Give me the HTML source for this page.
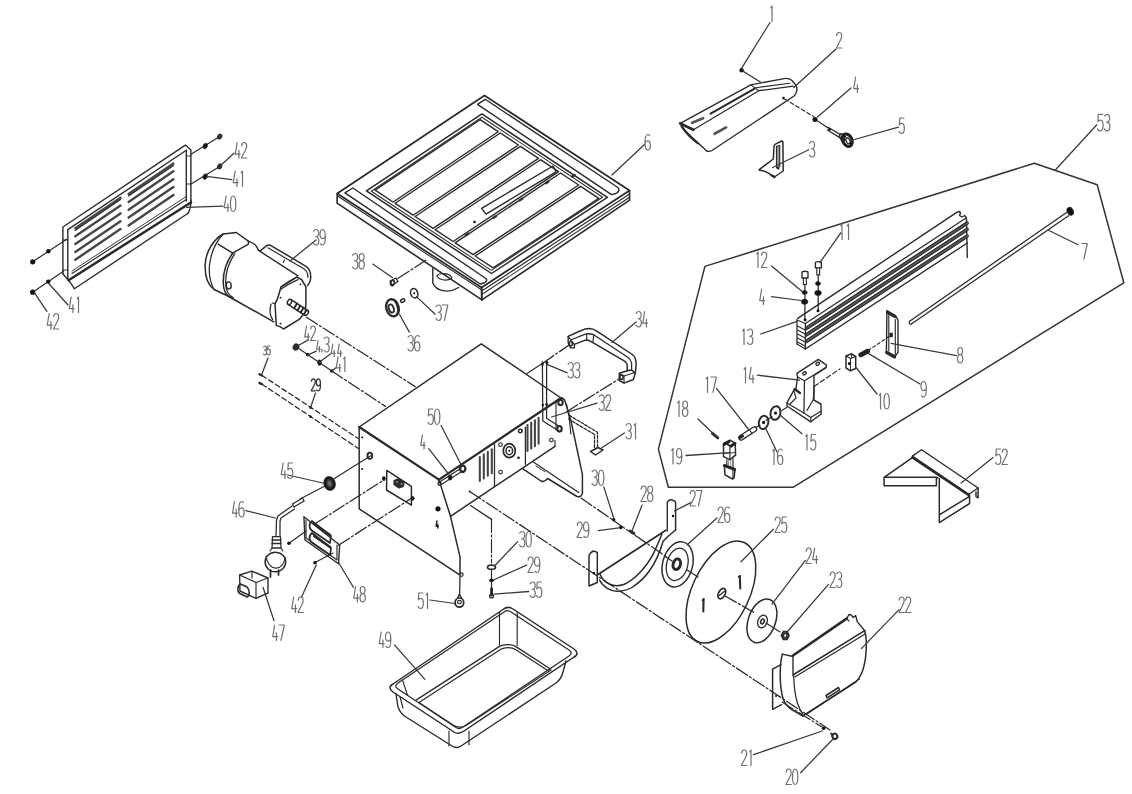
<!DOCTYPE html>
<html><head><meta charset="utf-8"><style>
html,body{margin:0;padding:0;background:#fff;}
body{width:1132px;height:794px;overflow:hidden;font-family:"Liberation Sans",sans-serif;}
svg{display:block;}
</style></head><body>
<svg width="1132" height="794" viewBox="0 0 1132 794" stroke-linecap="round" stroke-linejoin="round">
<rect width="1132" height="794" fill="#fff"/>
<polyline points="62.9,274.0 62.9,227.0 185.4,145.1 190.9,149.9 190.9,203.0" fill="none" stroke="#2a2a2a" stroke-width="1.38"/>
<polyline points="67.8,229.6 186.3,150.3" fill="none" stroke="#2a2a2a" stroke-width="1.38"/>
<polyline points="67.8,229.6 67.8,279.5" fill="none" stroke="#2a2a2a" stroke-width="1.38"/>
<polyline points="186.3,150.3 186.3,201.0" fill="none" stroke="#2a2a2a" stroke-width="1.38"/>
<polyline points="62.9,274.0 68.6,280.2" fill="none" stroke="#2a2a2a" stroke-width="1.38"/>
<polyline points="68.6,280.2 74.4,288.7" fill="none" stroke="#2a2a2a" stroke-width="1.38"/>
<polyline points="68.6,280.2 190.9,202.5" fill="none" stroke="#2a2a2a" stroke-width="2.53"/>
<polyline points="74.4,288.7 187.7,213.5" fill="none" stroke="#2a2a2a" stroke-width="1.38"/>
<path d="M190.9,200 C190.9,206 190.2,210.5 187.7,213.5" fill="none" stroke="#2a2a2a" stroke-width="1.38"/>
<polyline points="72.0,273.5 186.3,199.5" fill="none" stroke="#2a2a2a" stroke-width="1.15"/>
<polyline points="72.0,271.0 186.3,196.5" fill="none" stroke="#2a2a2a" stroke-width="0.92"/>
<polyline points="75.3,228.3 120.5,197.7" fill="none" stroke="#474747" stroke-width="2.42"/>
<polyline points="128.6,194.1 173.4,163.5" fill="none" stroke="#474747" stroke-width="2.42"/>
<polyline points="75.3,236.2 120.5,205.6" fill="none" stroke="#474747" stroke-width="2.42"/>
<polyline points="128.6,201.9 173.4,171.3" fill="none" stroke="#474747" stroke-width="2.42"/>
<polyline points="75.3,244.0 120.5,213.4" fill="none" stroke="#474747" stroke-width="2.42"/>
<polyline points="128.6,209.8 173.4,179.2" fill="none" stroke="#474747" stroke-width="2.42"/>
<polyline points="75.3,251.9 120.5,221.3" fill="none" stroke="#474747" stroke-width="2.42"/>
<polyline points="128.6,217.6 173.4,187.0" fill="none" stroke="#474747" stroke-width="2.42"/>
<polyline points="75.3,259.7 120.5,229.1" fill="none" stroke="#474747" stroke-width="2.42"/>
<polyline points="128.6,225.5 173.4,194.9" fill="none" stroke="#474747" stroke-width="2.42"/>
<polyline points="75.0,230.5 120.5,199.5" fill="none" stroke="#222" stroke-width="1.15"/>
<polyline points="128.5,196.0 173.5,165.5" fill="none" stroke="#222" stroke-width="1.15"/>
<polyline points="186.3,156.0 190.9,156.0" fill="none" stroke="#2a2a2a" stroke-width="0.92"/>
<polyline points="186.3,184.0 190.9,184.0" fill="none" stroke="#2a2a2a" stroke-width="0.92"/>
<polyline points="62.9,240.0 67.8,240.0" fill="none" stroke="#2a2a2a" stroke-width="0.92"/>
<polyline points="62.9,270.0 67.8,270.0" fill="none" stroke="#2a2a2a" stroke-width="0.92"/>
<polyline points="191.0,154.3 219.7,136.6" fill="none" stroke="#2a2a2a" stroke-width="1.15"/>
<ellipse cx="205.2" cy="146" rx="2.1" ry="2.9" transform="rotate(20 205.2 146)" fill="#111" stroke="#2a2a2a" stroke-width="0.57"/>
<ellipse cx="219.7" cy="136.6" rx="1.9" ry="2.5" transform="rotate(30 219.7 136.6)" fill="#333" stroke="#2a2a2a" stroke-width="1.15"/>
<polyline points="191.0,184.0 219.7,166.4" fill="none" stroke="#2a2a2a" stroke-width="1.15"/>
<ellipse cx="205.2" cy="176.6" rx="2.1" ry="2.9" transform="rotate(20 205.2 176.6)" fill="#111" stroke="#2a2a2a" stroke-width="0.57"/>
<ellipse cx="219.7" cy="166.4" rx="1.9" ry="2.5" transform="rotate(30 219.7 166.4)" fill="#333" stroke="#2a2a2a" stroke-width="1.15"/>
<polyline points="66.6,239.2 32.7,261.8" fill="none" stroke="#2a2a2a" stroke-width="1.15"/>
<circle cx="48.3" cy="251.2" r="2.2" fill="#111"/>
<circle cx="32.7" cy="261.8" r="2.6" fill="#111"/>
<polyline points="63.8,271.0 32.7,292.2" fill="none" stroke="#2a2a2a" stroke-width="1.15"/>
<circle cx="48.3" cy="281.6" r="2.2" fill="#111"/>
<circle cx="32.7" cy="292.2" r="2.6" fill="#111"/>
<polyline points="234.0,153.2 220.8,165.3" fill="none" stroke="#3a3a3a" stroke-width="1.26"/>
<g fill="none" stroke="#707070" stroke-width="1.2" stroke-linecap="round" stroke-linejoin="round"><path transform="translate(235.00,142.50) scale(0.889,1.033)" d="M2.4,0 L0.3,11.2 L5.8,11.2 M4.4,7.6 L4.4,15" vector-effect="non-scaling-stroke"/><path transform="translate(241.49,142.50) scale(0.889,1.033)" d="M0.2,3 C0.4,0.6 1.8,0 3,0 C4.8,0 5.8,1.2 5.8,3.6 C5.8,6.5 2.5,10 0,15 L6,15" vector-effect="non-scaling-stroke"/></g>
<polyline points="231.9,179.7 206.5,176.4" fill="none" stroke="#3a3a3a" stroke-width="1.26"/>
<g fill="none" stroke="#707070" stroke-width="1.2" stroke-linecap="round" stroke-linejoin="round"><path transform="translate(233.00,171.00) scale(0.889,1.033)" d="M2.4,0 L0.3,11.2 L5.8,11.2 M4.4,7.6 L4.4,15" vector-effect="non-scaling-stroke"/><path transform="translate(239.49,171.00) scale(0.889,1.033)" d="M1.9,1.8 L3.4,0 L3.4,15" vector-effect="non-scaling-stroke"/></g>
<polyline points="223.0,206.2 186.6,207.3" fill="none" stroke="#3a3a3a" stroke-width="1.26"/>
<g fill="none" stroke="#707070" stroke-width="1.2" stroke-linecap="round" stroke-linejoin="round"><path transform="translate(224.00,196.00) scale(0.889,1.033)" d="M2.4,0 L0.3,11.2 L5.8,11.2 M4.4,7.6 L4.4,15" vector-effect="non-scaling-stroke"/><path transform="translate(230.49,196.00) scale(0.889,1.033)" d="M3,0 C0.6,0 0,3.5 0,7.5 C0,11.5 0.6,15 3,15 C5.4,15 6,11.5 6,7.5 C6,3.5 5.4,0 3,0Z" vector-effect="non-scaling-stroke"/></g>
<polyline points="68.0,305.0 48.3,283.0" fill="none" stroke="#3a3a3a" stroke-width="1.26"/>
<g fill="none" stroke="#707070" stroke-width="1.2" stroke-linecap="round" stroke-linejoin="round"><path transform="translate(69.00,297.00) scale(0.889,1.033)" d="M2.4,0 L0.3,11.2 L5.8,11.2 M4.4,7.6 L4.4,15" vector-effect="non-scaling-stroke"/><path transform="translate(75.49,297.00) scale(0.889,1.033)" d="M1.9,1.8 L3.4,0 L3.4,15" vector-effect="non-scaling-stroke"/></g>
<polyline points="46.9,311.3 34.0,292.2" fill="none" stroke="#3a3a3a" stroke-width="1.26"/>
<g fill="none" stroke="#707070" stroke-width="1.2" stroke-linecap="round" stroke-linejoin="round"><path transform="translate(47.00,313.50) scale(0.889,1.033)" d="M2.4,0 L0.3,11.2 L5.8,11.2 M4.4,7.6 L4.4,15" vector-effect="non-scaling-stroke"/><path transform="translate(53.49,313.50) scale(0.889,1.033)" d="M0.2,3 C0.4,0.6 1.8,0 3,0 C4.8,0 5.8,1.2 5.8,3.6 C5.8,6.5 2.5,10 0,15 L6,15" vector-effect="non-scaling-stroke"/></g>
<path d="M236.3,232.5 L223.2,234 C214,239 206,251 205.2,264 C204.6,276 208,285 214,289.5 L231.2,297.5" fill="none" stroke="#2a2a2a" stroke-width="1.49"/>
<path d="M223.2,234 C216.5,241 211,253 209.5,265 C208.6,275 210.5,283 214,289.5" fill="none" stroke="#2a2a2a" stroke-width="1.26"/>
<path d="M218.1,244.1 L232.7,253.2 L248.4,244.1 L248.4,241.1 L236.3,232.5" fill="none" stroke="#2a2a2a" stroke-width="1.38"/>
<path d="M248.4,241.1 L253.5,243.5 C256,245 257.5,247.5 258.4,250.2" fill="none" stroke="#2a2a2a" stroke-width="1.38"/>
<path d="M232.7,253.2 C227,261 223.2,272 223.2,282 C223.2,291 226.5,296.5 232.2,298.5" fill="none" stroke="#2a2a2a" stroke-width="1.49"/>
<path d="M234.6,253.8 C229.2,262 225.6,272 225.6,282 C225.6,290.5 228.5,295.5 233.5,297.8" fill="none" stroke="#2a2a2a" stroke-width="1.26"/>
<ellipse cx="228.7" cy="285.4" rx="2.5" ry="3.5" transform="rotate(-10 228.7 285.4)" fill="none" stroke="#2a2a2a" stroke-width="1.38"/>
<polyline points="232.2,298.5 273.8,321.8" fill="none" stroke="#2a2a2a" stroke-width="1.49"/>
<polyline points="258.4,250.2 259.9,251.1" fill="none" stroke="#2a2a2a" stroke-width="1.38"/>
<path d="M259.9,251.1 L266,246.2 C267.2,245.2 268.8,244.8 270.5,245.3 L306,266.3 C309.5,268.5 311,273 310.7,278.3 C310.5,281 309.5,283.5 307.7,285.5" fill="none" stroke="#2a2a2a" stroke-width="1.49"/>
<path d="M268,247.8 L303.8,268.8 C306.8,270.8 308,274 308,277.5" fill="none" stroke="#2a2a2a" stroke-width="1.15"/>
<polyline points="260.5,251.7 298.0,275.9" fill="none" stroke="#2a2a2a" stroke-width="1.38"/>
<polyline points="284.5,260.0 283.2,262.5" fill="none" stroke="#2a2a2a" stroke-width="1.15"/>
<path d="M281.1,286.8 L296.8,277.1 L301.6,279.5 L305.9,286.8 L305.9,303.7 L305.3,312.1 L299.2,319.4 L283.5,329 L279.9,326.6 L276.3,325.4 L275,303.7 L277.5,298.8 Z" fill="none" stroke="#2a2a2a" stroke-width="1.49"/>
<path d="M281.1,286.8 C286,283 291,280 296.8,277.1 M280.3,289.5 C286,285.5 291.5,282.5 298,279.6" fill="none" stroke="#2a2a2a" stroke-width="1.26"/>
<path d="M271,304 C269.5,310 270,316 272.6,319.4 M272.5,303 L275,303.7" fill="none" stroke="#2a2a2a" stroke-width="1.26"/>
<circle cx="300.4" cy="284.3" r="0.9" fill="#111"/>
<circle cx="280.5" cy="297.6" r="0.9" fill="#111"/>
<circle cx="280.5" cy="323.6" r="0.9" fill="#111"/>
<path d="M291,299.6 L308,310.6 M288,304.3 L305,315.3" fill="none" stroke="#2a2a2a" stroke-width="1.49"/>
<ellipse cx="289.5" cy="302" rx="1.9" ry="2.8" transform="rotate(33 289.5 302)" fill="none" stroke="#2a2a2a" stroke-width="1.49"/>
<ellipse cx="306.5" cy="313" rx="1.5" ry="2.8" transform="rotate(33 306.5 313)" fill="none" stroke="#2a2a2a" stroke-width="1.49"/>
<polyline points="297.1,303.6 294.1,308.3" fill="none" stroke="#222" stroke-width="1.84"/>
<polyline points="300.4,305.7 297.4,310.4" fill="none" stroke="#222" stroke-width="1.84"/>
<polyline points="303.6,307.8 300.6,312.5" fill="none" stroke="#222" stroke-width="1.84"/>
<polyline points="316.0,240.0 290.0,261.0" fill="none" stroke="#3a3a3a" stroke-width="1.26"/>
<g fill="none" stroke="#707070" stroke-width="1.2" stroke-linecap="round" stroke-linejoin="round"><path transform="translate(313.50,229.50) scale(0.889,1.033)" d="M0.2,1.6 C1,0.4 2,0 3,0 C4.8,0 5.8,1.4 5.8,3.6 C5.8,5.8 4.6,7 2.4,7 C4.8,7 6,8.4 6,11 C6,13.6 4.8,15 3,15 C1.8,15 0.8,14.4 0,13.2" vector-effect="non-scaling-stroke"/><path transform="translate(319.99,229.50) scale(0.889,1.033)" d="M6,6.4 C5.5,8 4.4,8.8 2.9,8.8 C1,8.8 0,7.2 0,4.4 C0,1.6 1.2,0 3,0 C5,0 6,2 6,7 C6,12.5 5,15 2.8,15 C1.8,15 1,14.6 0.4,14" vector-effect="non-scaling-stroke"/></g>
<polygon points="484.5,95.5 629.5,190.5 481.6,287.5 337.2,193.5" fill="none" stroke="#2a2a2a" stroke-width="1.72"/>
<polyline points="337.2,193.5 337.1,203.2 481.9,299.9 629.6,200.2 629.5,190.5" fill="none" stroke="#2a2a2a" stroke-width="1.61"/>
<polyline points="337.2,195.8 481.6,289.8" fill="none" stroke="#2a2a2a" stroke-width="1.03"/>
<polyline points="481.7,291.0 629.6,194.0" fill="none" stroke="#2a2a2a" stroke-width="1.15"/>
<polyline points="481.8,294.5 629.6,197.2" fill="none" stroke="#2a2a2a" stroke-width="1.03"/>
<polyline points="481.6,287.5 481.9,299.9" fill="none" stroke="#2a2a2a" stroke-width="2.07"/>
<path d="M477.5,104.4 L485.2,99.3 L617.5,187.2 C620,189 619,192 616,193.5 L611.5,194.6 Z" fill="none" stroke="#2a2a2a" stroke-width="1.38"/>
<path d="M344.9,192.9 L352.9,188 L485.5,278.3 C488,280 486,282 484,283 L480.3,284 Z" fill="none" stroke="#2a2a2a" stroke-width="1.38"/>
<polygon points="481.9,113.9 607.4,197.4 491.5,273.5 366.4,190.8" fill="none" stroke="#2a2a2a" stroke-width="1.49"/>
<polygon points="481.9,117.2 602.6,197.2 491.3,270.4 371.3,191.3" fill="none" stroke="#2a2a2a" stroke-width="1.03"/>
<polygon points="375.1,190.1 480.1,119.7 498.2,131.7 393.1,202.0" fill="none" stroke="#2a2a2a" stroke-width="1.38"/>
<polygon points="395.1,203.3 500.3,133.0 518.4,145.0 413.1,215.2" fill="none" stroke="#2a2a2a" stroke-width="1.38"/>
<polygon points="415.1,216.5 520.4,146.4 538.5,158.4 433.1,228.3" fill="none" stroke="#2a2a2a" stroke-width="1.38"/>
<polygon points="435.1,229.7 540.5,159.7 558.6,171.7 453.1,241.5" fill="none" stroke="#2a2a2a" stroke-width="1.38"/>
<polygon points="455.1,242.9 560.6,173.0 578.7,185.0 473.1,254.7" fill="none" stroke="#2a2a2a" stroke-width="1.38"/>
<polygon points="475.1,256.0 580.7,186.4 598.8,198.4 493.1,267.9" fill="none" stroke="#2a2a2a" stroke-width="1.38"/>
<polygon points="481.6,208.3 553.0,166.0 556.0,171.8 486.0,214.1" fill="none" stroke="#2a2a2a" stroke-width="1.38"/>
<polyline points="465.8,235.3 468.2,233.7" fill="none" stroke="#333" stroke-width="2.53"/>
<polyline points="493.5,217.8 495.9,216.2" fill="none" stroke="#333" stroke-width="2.53"/>
<polyline points="519.8,200.3 522.2,198.7" fill="none" stroke="#333" stroke-width="2.53"/>
<polyline points="546.0,183.1 548.4,181.5" fill="none" stroke="#333" stroke-width="2.53"/>
<polyline points="572.2,176.6 574.6,175.0" fill="none" stroke="#333" stroke-width="2.53"/>
<circle cx="474.5" cy="222" r="1.3" fill="#111"/>
<path d="M432.8,268.5 L432.8,283 C436,291 448,294 458.7,287.5" fill="none" stroke="#2a2a2a" stroke-width="1.38"/>
<path d="M436.8,276 C440,272 450,273 452,278 C448,281 440,281 436.8,276" fill="none" stroke="#2a2a2a" stroke-width="1.15"/>
<polyline points="644.5,144.5 612.0,175.0" fill="none" stroke="#3a3a3a" stroke-width="1.26"/>
<g fill="none" stroke="#707070" stroke-width="1.2" stroke-linecap="round" stroke-linejoin="round"><path transform="translate(645.00,134.50) scale(0.889,1.033)" d="M5.4,1 C4.8,0.3 4,0 3.2,0 C1,0 0,3 0,8 C0,13 1,15 3,15 C5,15 6,13.4 6,10.6 C6,7.8 5,6.2 3.1,6.2 C1.6,6.2 0.5,7.2 0,8.6" vector-effect="non-scaling-stroke"/></g>
<polyline points="372.8,264.1 392.6,277.7" fill="none" stroke="#3a3a3a" stroke-width="1.26"/>
<g fill="none" stroke="#707070" stroke-width="1.2" stroke-linecap="round" stroke-linejoin="round"><path transform="translate(352.50,253.50) scale(0.889,1.033)" d="M0.2,1.6 C1,0.4 2,0 3,0 C4.8,0 5.8,1.4 5.8,3.6 C5.8,5.8 4.6,7 2.4,7 C4.8,7 6,8.4 6,11 C6,13.6 4.8,15 3,15 C1.8,15 0.8,14.4 0,13.2" vector-effect="non-scaling-stroke"/><path transform="translate(358.99,253.50) scale(0.889,1.033)" d="M3,7 C1,7 0.3,5.6 0.3,3.5 C0.3,1.2 1.4,0 3,0 C4.6,0 5.7,1.2 5.7,3.5 C5.7,5.6 5,7 3,7 C1,7 0,8.6 0,11 C0,13.6 1.3,15 3,15 C4.7,15 6,13.6 6,11 C6,8.6 5,7 3,7Z" vector-effect="non-scaling-stroke"/></g>
<path d="M390,281 L396,278 L398,281.5 L392,285 Z" fill="none" stroke="#2a2a2a" stroke-width="1.38"/>
<ellipse cx="392.5" cy="283" rx="1.8" ry="2.6" transform="rotate(20 392.5 283)" fill="none" stroke="#2a2a2a" stroke-width="1.61"/>
<polyline points="398.1,278.3 426.6,259.8" fill="none" stroke="#2a2a2a" stroke-width="1.26" stroke-dasharray="13 2.5 2 2.5"/>
<ellipse cx="414.2" cy="293.2" rx="3.5" ry="4.8" transform="rotate(-20 414.2 293.2)" fill="none" stroke="#2a2a2a" stroke-width="1.49"/>
<circle cx="414.2" cy="293.2" r="1.0" fill="#111"/>
<polyline points="416.7,296.9 435.2,314.2" fill="none" stroke="#3a3a3a" stroke-width="1.26"/>
<g fill="none" stroke="#707070" stroke-width="1.2" stroke-linecap="round" stroke-linejoin="round"><path transform="translate(436.00,305.00) scale(0.889,1.033)" d="M0.2,1.6 C1,0.4 2,0 3,0 C4.8,0 5.8,1.4 5.8,3.6 C5.8,5.8 4.6,7 2.4,7 C4.8,7 6,8.4 6,11 C6,13.6 4.8,15 3,15 C1.8,15 0.8,14.4 0,13.2" vector-effect="non-scaling-stroke"/><path transform="translate(442.49,305.00) scale(0.889,1.033)" d="M0,0 L6,0 L2.2,15" vector-effect="non-scaling-stroke"/></g>
<ellipse cx="392.5" cy="307.8" rx="6.2" ry="8.7" transform="rotate(-15 392.5 307.8)" fill="none" stroke="#2a2a2a" stroke-width="2.30"/>
<ellipse cx="391.3" cy="308.5" rx="2.4" ry="4.2" transform="rotate(-20 391.3 308.5)" fill="none" stroke="#2a2a2a" stroke-width="1.84"/>
<ellipse cx="402.7" cy="300.6" rx="2.2" ry="1.6" transform="rotate(-35 402.7 300.6)" fill="none" stroke="#2a2a2a" stroke-width="1.49"/>
<path d="M394,300 L396.5,304 L398,310 L397,314" fill="none" stroke="#2a2a2a" stroke-width="1.49"/>
<polyline points="399.4,314.2 409.3,332.1" fill="none" stroke="#3a3a3a" stroke-width="1.26"/>
<g fill="none" stroke="#707070" stroke-width="1.2" stroke-linecap="round" stroke-linejoin="round"><path transform="translate(408.00,335.50) scale(0.889,1.033)" d="M0.2,1.6 C1,0.4 2,0 3,0 C4.8,0 5.8,1.4 5.8,3.6 C5.8,5.8 4.6,7 2.4,7 C4.8,7 6,8.4 6,11 C6,13.6 4.8,15 3,15 C1.8,15 0.8,14.4 0,13.2" vector-effect="non-scaling-stroke"/><path transform="translate(414.49,335.50) scale(0.889,1.033)" d="M5.4,1 C4.8,0.3 4,0 3.2,0 C1,0 0,3 0,8 C0,13 1,15 3,15 C5,15 6,13.4 6,10.6 C6,7.8 5,6.2 3.1,6.2 C1.6,6.2 0.5,7.2 0,8.6" vector-effect="non-scaling-stroke"/></g>
<polyline points="359.2,427.0 481.3,343.8 561.0,398.0" fill="none" stroke="#2a2a2a" stroke-width="1.49"/>
<polyline points="359.2,427.0 438.9,479.6" fill="none" stroke="#2a2a2a" stroke-width="2.30"/>
<polyline points="438.9,479.6 561.0,398.0" fill="none" stroke="#2a2a2a" stroke-width="2.30"/>
<polyline points="359.2,427.0 359.2,508.8 459.0,574.4" fill="none" stroke="#2a2a2a" stroke-width="1.49"/>
<polyline points="438.9,479.6 450.5,516.3 460.0,556.8 460.0,574.5" fill="none" stroke="#2a2a2a" stroke-width="1.49"/>
<ellipse cx="461.3" cy="574.6" rx="1.8" ry="1.8" transform="rotate(0 461.3 574.6)" fill="none" stroke="#2a2a2a" stroke-width="1.26"/>
<ellipse cx="369.6" cy="455.7" rx="2.4" ry="3.2" transform="rotate(0 369.6 455.7)" fill="none" stroke="#2a2a2a" stroke-width="1.38"/>
<circle cx="362.2" cy="437.5" r="1.0" fill="#111"/>
<circle cx="362.2" cy="469" r="1.0" fill="#111"/>
<polygon points="386.8,470.4 411.4,486.3 411.4,505.2 386.5,490.0" fill="none" stroke="#2a2a2a" stroke-width="1.49"/>
<ellipse cx="383.8" cy="478.6" rx="1.6" ry="2.1" transform="rotate(0 383.8 478.6)" fill="#111" stroke="#2a2a2a" stroke-width="0.57"/>
<ellipse cx="412.6" cy="498.4" rx="1.6" ry="2.1" transform="rotate(0 412.6 498.4)" fill="#111" stroke="#2a2a2a" stroke-width="0.57"/>
<path d="M394,480.5 L399,478.5 L404,482 L403.5,486.5 L399,488 L394,484.5 Z" fill="#2a2a2a" stroke="#2a2a2a" stroke-width="1.15"/>
<circle cx="397" cy="482" r="0.8" fill="#ddd"/>
<circle cx="401.5" cy="484" r="0.8" fill="#ddd"/>
<circle cx="438" cy="508.8" r="2.6" fill="#111"/>
<g fill="none" stroke="#222" stroke-width="1.5" stroke-linecap="round" stroke-linejoin="round"><path transform="translate(436.00,521.00) scale(0.401,0.467)" d="M2.4,0 L0.3,11.2 L5.8,11.2 M4.4,7.6 L4.4,15" vector-effect="non-scaling-stroke"/></g>
<polyline points="450.5,516.3 555.0,446.3" fill="none" stroke="#2a2a2a" stroke-width="1.49"/>
<polyline points="555.0,440.5 555.0,446.3" fill="none" stroke="#2a2a2a" stroke-width="1.15"/>
<polyline points="440.5,481.3 461.0,468.2" fill="none" stroke="#2a2a2a" stroke-width="1.15"/>
<polyline points="441.8,484.2 462.5,471.0" fill="none" stroke="#2a2a2a" stroke-width="1.15"/>
<ellipse cx="439.6" cy="483.6" rx="1.6" ry="1.8" transform="rotate(0 439.6 483.6)" fill="none" stroke="#2a2a2a" stroke-width="1.38"/>
<ellipse cx="450.2" cy="477.6" rx="2.0" ry="2.5" transform="rotate(0 450.2 477.6)" fill="#111" stroke="#2a2a2a" stroke-width="0.69"/>
<ellipse cx="462.7" cy="468.8" rx="2.7" ry="3.2" transform="rotate(0 462.7 468.8)" fill="none" stroke="#2a2a2a" stroke-width="2.30"/>
<polyline points="494.5,444.5 494.5,486.6" fill="none" stroke="#2a2a2a" stroke-width="1.26"/>
<polyline points="525.4,427.2 525.4,464.3" fill="none" stroke="#2a2a2a" stroke-width="1.26"/>
<polyline points="479.8,457.0 479.8,481.0" fill="none" stroke="#444" stroke-width="2.07"/>
<polyline points="483.8,454.4 483.8,478.4" fill="none" stroke="#444" stroke-width="2.07"/>
<polyline points="487.8,451.8 487.8,475.8" fill="none" stroke="#444" stroke-width="2.07"/>
<polyline points="491.8,449.2 491.8,473.2" fill="none" stroke="#444" stroke-width="2.07"/>
<polyline points="527.5,425.0 527.5,451.0" fill="none" stroke="#444" stroke-width="2.07"/>
<polyline points="531.2,422.6 531.2,448.6" fill="none" stroke="#444" stroke-width="2.07"/>
<polyline points="534.9,420.2 534.9,446.2" fill="none" stroke="#444" stroke-width="2.07"/>
<polyline points="538.6,417.8 538.6,443.8" fill="none" stroke="#444" stroke-width="2.07"/>
<ellipse cx="509.3" cy="450.7" rx="6.0" ry="7.0" transform="rotate(0 509.3 450.7)" fill="none" stroke="#2a2a2a" stroke-width="1.72"/>
<ellipse cx="509.3" cy="450.7" rx="3.3" ry="4" transform="rotate(0 509.3 450.7)" fill="none" stroke="#2a2a2a" stroke-width="1.49"/>
<circle cx="509.3" cy="450.7" r="1" fill="#111"/>
<ellipse cx="500.5" cy="444.5" rx="1.8" ry="1.8" transform="rotate(0 500.5 444.5)" fill="none" stroke="#2a2a2a" stroke-width="1.15"/>
<ellipse cx="500.5" cy="472" rx="1.8" ry="1.8" transform="rotate(0 500.5 472)" fill="none" stroke="#2a2a2a" stroke-width="1.15"/>
<ellipse cx="520" cy="431" rx="1.8" ry="1.8" transform="rotate(0 520 431)" fill="none" stroke="#2a2a2a" stroke-width="1.15"/>
<ellipse cx="551.4" cy="440" rx="1.8" ry="1.8" transform="rotate(0 551.4 440)" fill="none" stroke="#2a2a2a" stroke-width="1.15"/>
<ellipse cx="520.5" cy="430.9" rx="1.8" ry="1.8" transform="rotate(0 520.5 430.9)" fill="none" stroke="#2a2a2a" stroke-width="1.15"/>
<circle cx="518.5" cy="457.8" r="1.3" fill="#111"/>
<circle cx="469.7" cy="491.5" r="0.9" fill="#111"/>
<path d="M561,398 C563,398 564.5,399.5 565,401.2 L570.7,419.6 L582.4,474.4 L582.4,493.2 C582,496 580,497.2 577,496.5 L547.6,478.5 C545.5,481 543.5,482.5 541,481 L522.6,468.7" fill="none" stroke="#2a2a2a" stroke-width="1.49"/>
<polyline points="556.0,402.0 556.0,430.0" fill="none" stroke="#2a2a2a" stroke-width="1.15"/>
<polyline points="533.3,462.1 578.7,492.4" fill="none" stroke="#2a2a2a" stroke-width="1.26"/>
<polyline points="536.0,466.0 545.0,471.8" fill="none" stroke="#2a2a2a" stroke-width="0.92"/>
<polyline points="569.3,418.0 570.8,434.0" fill="none" stroke="#2a2a2a" stroke-width="1.15"/>
<polyline points="566.5,404.0 569.3,418.0" fill="none" stroke="#2a2a2a" stroke-width="1.15"/>
<ellipse cx="560.5" cy="402.5" rx="2.2" ry="2.8" transform="rotate(0 560.5 402.5)" fill="none" stroke="#2a2a2a" stroke-width="2.07"/>
<ellipse cx="559.5" cy="428.8" rx="2.2" ry="2.8" transform="rotate(0 559.5 428.8)" fill="none" stroke="#2a2a2a" stroke-width="2.07"/>
<path d="M542.4,362 L542.8,421 L556.5,429.5" fill="none" stroke="#2a2a2a" stroke-width="1.26"/>
<path d="M546.6,362 L546.6,418.2 L558,425.5" fill="none" stroke="#2a2a2a" stroke-width="1.26"/>
<circle cx="542.4" cy="364" r="1.5" fill="#111"/>
<circle cx="546.9" cy="362.5" r="1.5" fill="#111"/>
<circle cx="542.8" cy="405" r="1.3" fill="#111"/>
<circle cx="546.6" cy="404.5" r="1.3" fill="#111"/>
<polyline points="461.0,464.5 441.1,425.5" fill="none" stroke="#3a3a3a" stroke-width="1.26"/>
<g fill="none" stroke="#707070" stroke-width="1.2" stroke-linecap="round" stroke-linejoin="round"><path transform="translate(428.00,409.00) scale(0.889,1.033)" d="M5.6,0 L0.9,0 L0.4,6.6 C1.2,5.6 2.2,5.2 3,5.2 C5,5.2 6,7 6,10 C6,13.2 4.8,15 3,15 C1.8,15 0.8,14.4 0,13.2" vector-effect="non-scaling-stroke"/><path transform="translate(434.49,409.00) scale(0.889,1.033)" d="M3,0 C0.6,0 0,3.5 0,7.5 C0,11.5 0.6,15 3,15 C5.4,15 6,11.5 6,7.5 C6,3.5 5.4,0 3,0Z" vector-effect="non-scaling-stroke"/></g>
<polyline points="448.5,474.0 428.7,448.7" fill="none" stroke="#3a3a3a" stroke-width="1.26"/>
<g fill="none" stroke="#707070" stroke-width="1.2" stroke-linecap="round" stroke-linejoin="round"><path transform="translate(420.50,435.00) scale(0.803,0.933)" d="M2.4,0 L0.3,11.2 L5.8,11.2 M4.4,7.6 L4.4,15" vector-effect="non-scaling-stroke"/></g>
<path d="M568.2,336.4 L580.5,330.8 C583.5,329.3 586.5,328.5 589.3,328.5 C592,328.6 594.3,329.5 596.4,330.8 L631.6,354 C633.8,355.6 635,357 635.2,358.5 C636.2,361 636.3,364 636,366.4 L635.2,373.4" fill="none" stroke="#2a2a2a" stroke-width="1.49"/>
<path d="M570.8,340 L584,334.6 C585.3,334 586,333.8 586.7,333.8 C589.5,333.6 591.8,334 593.7,334.7 L628.1,357.6 C629.8,358.8 631,360.5 631.6,362.9 L631.6,370" fill="none" stroke="#2a2a2a" stroke-width="1.26"/>
<path d="M574.4,344.4 L584,340.6 C585,340.2 586,340 586.7,340 C589,340.3 591,341.4 592.9,342.6 L624.6,361.1 C626,362 626.8,363.2 627.2,364.6 L627.2,370.8" fill="none" stroke="#2a2a2a" stroke-width="1.49"/>
<path d="M568.2,336.4 L568.2,343 L570.5,347.9 L574.4,347.9 L574.4,344.4" fill="none" stroke="#2a2a2a" stroke-width="1.38"/>
<polyline points="568.2,336.4 570.8,340.0" fill="none" stroke="#2a2a2a" stroke-width="1.15"/>
<polyline points="570.8,340.0 574.4,344.4" fill="none" stroke="#2a2a2a" stroke-width="1.15"/>
<ellipse cx="570.8" cy="343.8" rx="1.5" ry="2.2" transform="rotate(0 570.8 343.8)" fill="none" stroke="#2a2a2a" stroke-width="1.49"/>
<polyline points="586.7,333.8 586.7,340.0" fill="none" stroke="#2a2a2a" stroke-width="1.15"/>
<polyline points="593.7,334.7 592.9,342.6" fill="none" stroke="#2a2a2a" stroke-width="1.15"/>
<path d="M619.3,373.3 L627.2,370.8 L631.6,370 L635.2,373.4 L633.4,379.5 L624,383.1 L619.3,380.5 Z" fill="none" stroke="#2a2a2a" stroke-width="1.49"/>
<polyline points="624.0,376.0 624.0,383.1" fill="none" stroke="#2a2a2a" stroke-width="1.15"/>
<polyline points="619.3,373.3 624.0,376.0" fill="none" stroke="#2a2a2a" stroke-width="1.15"/>
<polyline points="624.0,376.0 633.4,373.0" fill="none" stroke="#2a2a2a" stroke-width="1.15"/>
<ellipse cx="621.5" cy="377.3" rx="1.5" ry="2.2" transform="rotate(0 621.5 377.3)" fill="none" stroke="#2a2a2a" stroke-width="1.49"/>
<polyline points="611.9,342.4 636.0,322.0" fill="none" stroke="#3a3a3a" stroke-width="1.26"/>
<g fill="none" stroke="#707070" stroke-width="1.2" stroke-linecap="round" stroke-linejoin="round"><path transform="translate(636.00,311.50) scale(0.889,1.033)" d="M0.2,1.6 C1,0.4 2,0 3,0 C4.8,0 5.8,1.4 5.8,3.6 C5.8,5.8 4.6,7 2.4,7 C4.8,7 6,8.4 6,11 C6,13.6 4.8,15 3,15 C1.8,15 0.8,14.4 0,13.2" vector-effect="non-scaling-stroke"/><path transform="translate(642.49,311.50) scale(0.889,1.033)" d="M2.4,0 L0.3,11.2 L5.8,11.2 M4.4,7.6 L4.4,15" vector-effect="non-scaling-stroke"/></g>
<polyline points="527.0,373.5 543.0,363.0" fill="none" stroke="#2a2a2a" stroke-width="1.15"/>
<polyline points="543.0,363.0 568.8,345.2" fill="none" stroke="#2a2a2a" stroke-width="1.26" stroke-dasharray="13 2.5 2 2.5"/>
<polyline points="566.6,411.7 619.0,379.0" fill="none" stroke="#2a2a2a" stroke-width="1.26" stroke-dasharray="13 2.5 2 2.5"/>
<polyline points="567.3,372.8 546.9,364.3" fill="none" stroke="#3a3a3a" stroke-width="1.26"/>
<g fill="none" stroke="#707070" stroke-width="1.2" stroke-linecap="round" stroke-linejoin="round"><path transform="translate(568.00,362.50) scale(0.889,1.033)" d="M0.2,1.6 C1,0.4 2,0 3,0 C4.8,0 5.8,1.4 5.8,3.6 C5.8,5.8 4.6,7 2.4,7 C4.8,7 6,8.4 6,11 C6,13.6 4.8,15 3,15 C1.8,15 0.8,14.4 0,13.2" vector-effect="non-scaling-stroke"/><path transform="translate(574.49,362.50) scale(0.889,1.033)" d="M0.2,1.6 C1,0.4 2,0 3,0 C4.8,0 5.8,1.4 5.8,3.6 C5.8,5.8 4.6,7 2.4,7 C4.8,7 6,8.4 6,11 C6,13.6 4.8,15 3,15 C1.8,15 0.8,14.4 0,13.2" vector-effect="non-scaling-stroke"/></g>
<polyline points="597.0,403.2 551.6,417.0" fill="none" stroke="#3a3a3a" stroke-width="1.26"/>
<g fill="none" stroke="#707070" stroke-width="1.2" stroke-linecap="round" stroke-linejoin="round"><path transform="translate(599.00,394.80) scale(0.889,1.033)" d="M0.2,1.6 C1,0.4 2,0 3,0 C4.8,0 5.8,1.4 5.8,3.6 C5.8,5.8 4.6,7 2.4,7 C4.8,7 6,8.4 6,11 C6,13.6 4.8,15 3,15 C1.8,15 0.8,14.4 0,13.2" vector-effect="non-scaling-stroke"/><path transform="translate(605.49,394.80) scale(0.889,1.033)" d="M0.2,3 C0.4,0.6 1.8,0 3,0 C4.8,0 5.8,1.2 5.8,3.6 C5.8,6.5 2.5,10 0,15 L6,15" vector-effect="non-scaling-stroke"/></g>
<path d="M569.3,415.3 L597.5,432.3 L597.5,447.8" fill="none" stroke="#2a2a2a" stroke-width="1.26" stroke-dasharray="3 1.5"/>
<path d="M568.5,419 L594.5,434.5 L594.5,449" fill="none" stroke="#2a2a2a" stroke-width="1.26" stroke-dasharray="3 1.5"/>
<path d="M590.5,451.5 L598,447.5 L603,450 L595.5,455 Z" fill="none" stroke="#2a2a2a" stroke-width="1.49"/>
<polyline points="624.4,433.0 601.8,447.8" fill="none" stroke="#3a3a3a" stroke-width="1.26"/>
<g fill="none" stroke="#707070" stroke-width="1.2" stroke-linecap="round" stroke-linejoin="round"><path transform="translate(626.00,423.50) scale(0.889,1.033)" d="M0.2,1.6 C1,0.4 2,0 3,0 C4.8,0 5.8,1.4 5.8,3.6 C5.8,5.8 4.6,7 2.4,7 C4.8,7 6,8.4 6,11 C6,13.6 4.8,15 3,15 C1.8,15 0.8,14.4 0,13.2" vector-effect="non-scaling-stroke"/><path transform="translate(632.49,423.50) scale(0.889,1.033)" d="M1.9,1.8 L3.4,0 L3.4,15" vector-effect="non-scaling-stroke"/></g>
<polyline points="306.4,317.3 415.2,386.6" fill="none" stroke="#2a2a2a" stroke-width="1.26" stroke-dasharray="13 2.5 2 2.5"/>
<ellipse cx="296" cy="347" rx="2.2" ry="2.6" transform="rotate(30 296 347)" fill="#333" stroke="#2a2a2a" stroke-width="2.07"/>
<polyline points="298.0,348.0 331.8,371.0" fill="none" stroke="#2a2a2a" stroke-width="1.15"/>
<circle cx="307.6" cy="354.6" r="1.8" fill="#111"/>
<ellipse cx="319.5" cy="362.6" rx="1.9" ry="2.8" transform="rotate(0 319.5 362.6)" fill="#111" stroke="#2a2a2a" stroke-width="0.57"/>
<circle cx="331.8" cy="371" r="1.7" fill="#111"/>
<polyline points="331.8,371.0 385.5,406.4" fill="none" stroke="#2a2a2a" stroke-width="1.26" stroke-dasharray="13 2.5 2 2.5"/>
<polyline points="297.5,346.0 308.3,339.9" fill="none" stroke="#3a3a3a" stroke-width="1.26"/>
<g fill="none" stroke="#707070" stroke-width="1.2" stroke-linecap="round" stroke-linejoin="round"><path transform="translate(304.50,326.00) scale(0.831,0.967)" d="M2.4,0 L0.3,11.2 L5.8,11.2 M4.4,7.6 L4.4,15" vector-effect="non-scaling-stroke"/><path transform="translate(310.57,326.00) scale(0.831,0.967)" d="M0.2,3 C0.4,0.6 1.8,0 3,0 C4.8,0 5.8,1.2 5.8,3.6 C5.8,6.5 2.5,10 0,15 L6,15" vector-effect="non-scaling-stroke"/></g>
<polyline points="307.6,355.1 316.3,351.1" fill="none" stroke="#3a3a3a" stroke-width="1.26"/>
<g fill="none" stroke="#707070" stroke-width="1.2" stroke-linecap="round" stroke-linejoin="round"><path transform="translate(316.50,340.50) scale(0.659,0.767)" d="M2.4,0 L0.3,11.2 L5.8,11.2 M4.4,7.6 L4.4,15" vector-effect="non-scaling-stroke"/></g>
<g fill="none" stroke="#707070" stroke-width="1.2" stroke-linecap="round" stroke-linejoin="round"><path transform="translate(321.30,339.00) scale(0.688,0.800)" d="M1,13 L0.5,16" vector-effect="non-scaling-stroke"/></g>
<g fill="none" stroke="#707070" stroke-width="1.2" stroke-linecap="round" stroke-linejoin="round"><path transform="translate(324.00,337.00) scale(0.860,1.000)" d="M0.2,1.6 C1,0.4 2,0 3,0 C4.8,0 5.8,1.4 5.8,3.6 C5.8,5.8 4.6,7 2.4,7 C4.8,7 6,8.4 6,11 C6,13.6 4.8,15 3,15 C1.8,15 0.8,14.4 0,13.2" vector-effect="non-scaling-stroke"/></g>
<polyline points="319.0,362.4 330.8,353.8" fill="none" stroke="#3a3a3a" stroke-width="1.26"/>
<g fill="none" stroke="#707070" stroke-width="1.2" stroke-linecap="round" stroke-linejoin="round"><path transform="translate(331.00,344.00) scale(0.717,0.833)" d="M2.4,0 L0.3,11.2 L5.8,11.2 M4.4,7.6 L4.4,15" vector-effect="non-scaling-stroke"/></g>
<g fill="none" stroke="#707070" stroke-width="1.2" stroke-linecap="round" stroke-linejoin="round"><path transform="translate(337.50,344.00) scale(0.717,0.833)" d="M2.4,0 L0.3,11.2 L5.8,11.2 M4.4,7.6 L4.4,15" vector-effect="non-scaling-stroke"/></g>
<polyline points="331.5,371.0 336.0,367.7" fill="none" stroke="#3a3a3a" stroke-width="1.26"/>
<g fill="none" stroke="#707070" stroke-width="1.2" stroke-linecap="round" stroke-linejoin="round"><path transform="translate(336.00,357.00) scale(0.831,0.967)" d="M2.4,0 L0.3,11.2 L5.8,11.2 M4.4,7.6 L4.4,15" vector-effect="non-scaling-stroke"/><path transform="translate(342.07,357.00) scale(0.831,0.967)" d="M1.9,1.8 L3.4,0 L3.4,15" vector-effect="non-scaling-stroke"/></g>
<polyline points="259.4,374.2 262.0,375.5" fill="none" stroke="#2a2a2a" stroke-width="2.30"/>
<polyline points="259.4,382.9 262.0,384.2" fill="none" stroke="#2a2a2a" stroke-width="2.30"/>
<polyline points="262.0,375.5 358.3,438.5" fill="none" stroke="#2a2a2a" stroke-width="1.26" stroke-dasharray="5 3"/>
<polyline points="262.0,384.2 358.3,448.4" fill="none" stroke="#2a2a2a" stroke-width="1.26" stroke-dasharray="5 3"/>
<circle cx="310.6" cy="407.6" r="1.3" fill="#111"/>
<circle cx="310.6" cy="416.7" r="1.3" fill="#111"/>
<polyline points="261.8,374.2 268.0,358.0" fill="none" stroke="#3a3a3a" stroke-width="1.26"/>
<g fill="none" stroke="#707070" stroke-width="1.2" stroke-linecap="round" stroke-linejoin="round"><path transform="translate(263.50,346.00) scale(0.516,0.600)" d="M0.2,1.6 C1,0.4 2,0 3,0 C4.8,0 5.8,1.4 5.8,3.6 C5.8,5.8 4.6,7 2.4,7 C4.8,7 6,8.4 6,11 C6,13.6 4.8,15 3,15 C1.8,15 0.8,14.4 0,13.2" vector-effect="non-scaling-stroke"/><path transform="translate(267.27,346.00) scale(0.516,0.600)" d="M5.6,0 L0.9,0 L0.4,6.6 C1.2,5.6 2.2,5.2 3,5.2 C5,5.2 6,7 6,10 C6,13.2 4.8,15 3,15 C1.8,15 0.8,14.4 0,13.2" vector-effect="non-scaling-stroke"/></g>
<polyline points="315.5,393.0 310.6,407.6" fill="none" stroke="#3a3a3a" stroke-width="1.26"/>
<g fill="none" stroke="#333" stroke-width="1.3" stroke-linecap="round" stroke-linejoin="round"><path transform="translate(311.30,378.80) scale(0.688,0.800)" d="M0.2,3 C0.4,0.6 1.8,0 3,0 C4.8,0 5.8,1.2 5.8,3.6 C5.8,6.5 2.5,10 0,15 L6,15" vector-effect="non-scaling-stroke"/><path transform="translate(316.32,378.80) scale(0.688,0.800)" d="M6,6.4 C5.5,8 4.4,8.8 2.9,8.8 C1,8.8 0,7.2 0,4.4 C0,1.6 1.2,0 3,0 C5,0 6,2 6,7 C6,12.5 5,15 2.8,15 C1.8,15 1,14.6 0.4,14" vector-effect="non-scaling-stroke"/></g>
<polyline points="287.8,475.0 325.0,483.5" fill="none" stroke="#3a3a3a" stroke-width="1.26"/>
<g fill="none" stroke="#707070" stroke-width="1.2" stroke-linecap="round" stroke-linejoin="round"><path transform="translate(281.00,463.00) scale(0.889,1.033)" d="M2.4,0 L0.3,11.2 L5.8,11.2 M4.4,7.6 L4.4,15" vector-effect="non-scaling-stroke"/><path transform="translate(287.49,463.00) scale(0.889,1.033)" d="M5.6,0 L0.9,0 L0.4,6.6 C1.2,5.6 2.2,5.2 3,5.2 C5,5.2 6,7 6,10 C6,13.2 4.8,15 3,15 C1.8,15 0.8,14.4 0,13.2" vector-effect="non-scaling-stroke"/></g>
<ellipse cx="329.6" cy="483.5" rx="4.6" ry="5.9" transform="rotate(-15 329.6 483.5)" fill="#3a3a3a" stroke="#1a1a1a" stroke-width="2.99"/>
<ellipse cx="329.6" cy="483.5" rx="1.6" ry="2.6" transform="rotate(-15 329.6 483.5)" fill="#777" stroke="#555" stroke-width="0.92"/>
<polyline points="332.0,480.0 370.7,455.8" fill="none" stroke="#2a2a2a" stroke-width="1.15"/>
<ellipse cx="370.2" cy="455.7" rx="2.4" ry="3.2" transform="rotate(0 370.2 455.7)" fill="none" stroke="#2a2a2a" stroke-width="1.15"/>
<polyline points="325.0,486.0 300.0,499.0" fill="none" stroke="#2a2a2a" stroke-width="1.15"/>
<path d="M294,507 L304,501 M292.5,504 L302.5,498" fill="none" stroke="#2a2a2a" stroke-width="1.26"/>
<path d="M292.5,504 L294,507 M302.5,498 L304,501" fill="none" stroke="#2a2a2a" stroke-width="1.15"/>
<path d="M292,506 L278,516 L276.5,520 L276,536.6 M294.5,509 L281,518 L280,521 L280,536.6" fill="none" stroke="#2a2a2a" stroke-width="1.26"/>
<path d="M272.5,536.6 L280.5,536.6 L281,548 L272,548 Z" fill="none" stroke="#2a2a2a" stroke-width="1.26"/>
<polyline points="272.2,540.0 280.7,540.0" fill="none" stroke="#2a2a2a" stroke-width="1.61"/>
<polyline points="272.2,543.5 280.8,543.5" fill="none" stroke="#2a2a2a" stroke-width="1.61"/>
<path d="M272,548 L270,551 M281,548 L283,551" fill="none" stroke="#2a2a2a" stroke-width="1.15"/>
<ellipse cx="275.4" cy="562" rx="10.3" ry="9.8" transform="rotate(0 275.4 562)" fill="none" stroke="#2a2a2a" stroke-width="1.49"/>
<path d="M266,556 C268,572 284,572 285,557" fill="none" stroke="#2a2a2a" stroke-width="1.15"/>
<polyline points="270.5,570.0 270.5,577.0" fill="none" stroke="#2a2a2a" stroke-width="1.72"/>
<polyline points="278.5,570.0 278.5,575.0" fill="none" stroke="#2a2a2a" stroke-width="1.72"/>
<polyline points="245.8,510.6 275.4,518.0" fill="none" stroke="#3a3a3a" stroke-width="1.26"/>
<g fill="none" stroke="#707070" stroke-width="1.2" stroke-linecap="round" stroke-linejoin="round"><path transform="translate(232.30,501.50) scale(0.889,1.033)" d="M2.4,0 L0.3,11.2 L5.8,11.2 M4.4,7.6 L4.4,15" vector-effect="non-scaling-stroke"/><path transform="translate(238.79,501.50) scale(0.889,1.033)" d="M5.4,1 C4.8,0.3 4,0 3.2,0 C1,0 0,3 0,8 C0,13 1,15 3,15 C5,15 6,13.4 6,10.6 C6,7.8 5,6.2 3.1,6.2 C1.6,6.2 0.5,7.2 0,8.6" vector-effect="non-scaling-stroke"/></g>
<path d="M239.6,575 L252,571.2 L268,578 L268,593 L256,598.4 L240,591 Z" fill="none" stroke="#2a2a2a" stroke-width="1.38"/>
<polyline points="252.0,571.2 252.0,578.0" fill="none" stroke="#2a2a2a" stroke-width="1.15"/>
<polyline points="239.6,575.0 256.0,582.5" fill="none" stroke="#2a2a2a" stroke-width="1.15"/>
<polyline points="256.0,582.5 268.0,578.0" fill="none" stroke="#2a2a2a" stroke-width="1.15"/>
<polyline points="256.0,582.5 256.0,598.4" fill="none" stroke="#2a2a2a" stroke-width="1.15"/>
<path d="M240.5,584 C237,586 237,593 241,594 L247,597 C250,596 250,590 247,587 Z" fill="none" stroke="#2a2a2a" stroke-width="1.61"/>
<polyline points="274.0,620.7 263.0,587.3" fill="none" stroke="#3a3a3a" stroke-width="1.26"/>
<g fill="none" stroke="#707070" stroke-width="1.2" stroke-linecap="round" stroke-linejoin="round"><path transform="translate(272.50,625.00) scale(0.889,1.033)" d="M2.4,0 L0.3,11.2 L5.8,11.2 M4.4,7.6 L4.4,15" vector-effect="non-scaling-stroke"/><path transform="translate(278.99,625.00) scale(0.889,1.033)" d="M0,0 L6,0 L2.2,15" vector-effect="non-scaling-stroke"/></g>
<path d="M303.9,516.8 L305,540 L338.5,563.8 L339.7,545 Z" fill="none" stroke="#2a2a2a" stroke-width="1.38"/>
<path d="M306,520 L306,538 L337,560 L337,545" fill="none" stroke="#2a2a2a" stroke-width="1.15"/>
<path d="M312,521 C308,524 309,530 314,532 L330,543 L331,536 Z" fill="none" stroke="#2a2a2a" stroke-width="1.72"/>
<path d="M312,533 C308,536 309,542 314,544 L330,555 L331,548 Z" fill="none" stroke="#2a2a2a" stroke-width="1.72"/>
<polyline points="314.0,524.0 330.0,535.0" fill="none" stroke="#2a2a2a" stroke-width="2.30"/>
<polyline points="314.0,536.0 330.0,547.0" fill="none" stroke="#2a2a2a" stroke-width="2.30"/>
<polyline points="316.3,523.0 384.3,479.7" fill="none" stroke="#2a2a2a" stroke-width="1.26" stroke-dasharray="13 2.5 2 2.5"/>
<polyline points="338.5,545.2 411.5,498.2" fill="none" stroke="#2a2a2a" stroke-width="1.26" stroke-dasharray="13 2.5 2 2.5"/>
<polyline points="290.0,542.5 306.0,531.0" fill="none" stroke="#2a2a2a" stroke-width="1.15"/>
<circle cx="289" cy="543.3" r="1.8" fill="#111"/>
<polyline points="315.0,562.5 333.0,553.0" fill="none" stroke="#2a2a2a" stroke-width="1.15"/>
<circle cx="315" cy="562.8" r="1.8" fill="#111"/>
<polyline points="301.4,597.2 316.3,565.0" fill="none" stroke="#3a3a3a" stroke-width="1.26"/>
<g fill="none" stroke="#707070" stroke-width="1.2" stroke-linecap="round" stroke-linejoin="round"><path transform="translate(291.50,597.00) scale(0.889,1.033)" d="M2.4,0 L0.3,11.2 L5.8,11.2 M4.4,7.6 L4.4,15" vector-effect="non-scaling-stroke"/><path transform="translate(297.99,597.00) scale(0.889,1.033)" d="M0.2,3 C0.4,0.6 1.8,0 3,0 C4.8,0 5.8,1.2 5.8,3.6 C5.8,6.5 2.5,10 0,15 L6,15" vector-effect="non-scaling-stroke"/></g>
<polyline points="353.4,587.3 338.5,562.5" fill="none" stroke="#3a3a3a" stroke-width="1.26"/>
<g fill="none" stroke="#707070" stroke-width="1.2" stroke-linecap="round" stroke-linejoin="round"><path transform="translate(353.50,586.50) scale(0.889,1.033)" d="M2.4,0 L0.3,11.2 L5.8,11.2 M4.4,7.6 L4.4,15" vector-effect="non-scaling-stroke"/><path transform="translate(359.99,586.50) scale(0.889,1.033)" d="M3,7 C1,7 0.3,5.6 0.3,3.5 C0.3,1.2 1.4,0 3,0 C4.6,0 5.7,1.2 5.7,3.5 C5.7,5.6 5,7 3,7 C1,7 0,8.6 0,11 C0,13.6 1.3,15 3,15 C4.7,15 6,13.6 6,11 C6,8.6 5,7 3,7Z" vector-effect="non-scaling-stroke"/></g>
<polyline points="460.0,576.0 459.6,594.0" fill="none" stroke="#2a2a2a" stroke-width="1.26"/>
<path d="M457.6,598 L459.4,594.2 L461.4,598" fill="none" stroke="#2a2a2a" stroke-width="1.49"/>
<ellipse cx="459.4" cy="602.6" rx="4.3" ry="4.6" transform="rotate(0 459.4 602.6)" fill="none" stroke="#2a2a2a" stroke-width="1.72"/>
<ellipse cx="459.4" cy="602" rx="2.0" ry="1.6" transform="rotate(0 459.4 602)" fill="none" stroke="#2a2a2a" stroke-width="1.15"/>
<polyline points="430.0,600.0 454.8,603.5" fill="none" stroke="#3a3a3a" stroke-width="1.26"/>
<g fill="none" stroke="#707070" stroke-width="1.2" stroke-linecap="round" stroke-linejoin="round"><path transform="translate(418.00,593.00) scale(0.889,1.033)" d="M5.6,0 L0.9,0 L0.4,6.6 C1.2,5.6 2.2,5.2 3,5.2 C5,5.2 6,7 6,10 C6,13.2 4.8,15 3,15 C1.8,15 0.8,14.4 0,13.2" vector-effect="non-scaling-stroke"/><path transform="translate(424.49,593.00) scale(0.889,1.033)" d="M1.9,1.8 L3.4,0 L3.4,15" vector-effect="non-scaling-stroke"/></g>
<polyline points="470.5,505.5 491.5,519.4" fill="none" stroke="#2a2a2a" stroke-width="1.26"/>
<polyline points="491.5,519.4 491.5,563.0" fill="none" stroke="#2a2a2a" stroke-width="1.15" stroke-dasharray="13 2.5 2 2.5"/>
<polyline points="491.5,569.0 491.5,596.0" fill="none" stroke="#2a2a2a" stroke-width="1.15"/>
<ellipse cx="491.5" cy="567.2" rx="4.0" ry="2.1" transform="rotate(0 491.5 567.2)" fill="none" stroke="#2a2a2a" stroke-width="1.61"/>
<ellipse cx="491.5" cy="580.4" rx="2.2" ry="1.4" transform="rotate(0 491.5 580.4)" fill="#111" stroke="#2a2a2a" stroke-width="0.69"/>
<polyline points="491.6,588.7 491.6,594.5" fill="none" stroke="#222" stroke-width="2.76"/>
<ellipse cx="491.6" cy="596.2" rx="1.9" ry="1.7" transform="rotate(0 491.6 596.2)" fill="none" stroke="#2a2a2a" stroke-width="1.38"/>
<polyline points="494.7,565.8 517.6,541.6" fill="none" stroke="#3a3a3a" stroke-width="1.26"/>
<g fill="none" stroke="#707070" stroke-width="1.2" stroke-linecap="round" stroke-linejoin="round"><path transform="translate(519.50,531.50) scale(0.889,1.033)" d="M0.2,1.6 C1,0.4 2,0 3,0 C4.8,0 5.8,1.4 5.8,3.6 C5.8,5.8 4.6,7 2.4,7 C4.8,7 6,8.4 6,11 C6,13.6 4.8,15 3,15 C1.8,15 0.8,14.4 0,13.2" vector-effect="non-scaling-stroke"/><path transform="translate(525.99,531.50) scale(0.889,1.033)" d="M3,0 C0.6,0 0,3.5 0,7.5 C0,11.5 0.6,15 3,15 C5.4,15 6,11.5 6,7.5 C6,3.5 5.4,0 3,0Z" vector-effect="non-scaling-stroke"/></g>
<polyline points="494.0,579.7 526.6,565.1" fill="none" stroke="#3a3a3a" stroke-width="1.26"/>
<g fill="none" stroke="#707070" stroke-width="1.2" stroke-linecap="round" stroke-linejoin="round"><path transform="translate(528.00,557.00) scale(0.889,1.033)" d="M0.2,3 C0.4,0.6 1.8,0 3,0 C4.8,0 5.8,1.2 5.8,3.6 C5.8,6.5 2.5,10 0,15 L6,15" vector-effect="non-scaling-stroke"/><path transform="translate(534.49,557.00) scale(0.889,1.033)" d="M6,6.4 C5.5,8 4.4,8.8 2.9,8.8 C1,8.8 0,7.2 0,4.4 C0,1.6 1.2,0 3,0 C5,0 6,2 6,7 C6,12.5 5,15 2.8,15 C1.8,15 1,14.6 0.4,14" vector-effect="non-scaling-stroke"/></g>
<polyline points="494.0,594.2 528.7,591.5" fill="none" stroke="#3a3a3a" stroke-width="1.26"/>
<g fill="none" stroke="#707070" stroke-width="1.2" stroke-linecap="round" stroke-linejoin="round"><path transform="translate(530.00,582.00) scale(0.889,1.033)" d="M0.2,1.6 C1,0.4 2,0 3,0 C4.8,0 5.8,1.4 5.8,3.6 C5.8,5.8 4.6,7 2.4,7 C4.8,7 6,8.4 6,11 C6,13.6 4.8,15 3,15 C1.8,15 0.8,14.4 0,13.2" vector-effect="non-scaling-stroke"/><path transform="translate(536.49,582.00) scale(0.889,1.033)" d="M5.6,0 L0.9,0 L0.4,6.6 C1.2,5.6 2.2,5.2 3,5.2 C5,5.2 6,7 6,10 C6,13.2 4.8,15 3,15 C1.8,15 0.8,14.4 0,13.2" vector-effect="non-scaling-stroke"/></g>
<path d="M503,609.5 C506,607 510,607 513,609 L574,649 C578,652 578,655 574,657 L464,731 C460,734 457,734 454,732 L393,692 C389,689 389,686 393,684 Z" fill="none" stroke="#2a2a2a" stroke-width="1.49"/>
<path d="M504,612 C506,610.5 509,610.5 511,612 L569,650 C572,652 572,654 569,656 L463,727 C460,729 458,729 456,727.5 L398,689 C395,687 395,685 398,683 Z" fill="none" stroke="#2a2a2a" stroke-width="1.26"/>
<path d="M396,694 L398,707 C400,712 402,715 406,717 L452,746 C455,748 458,748 461,746 L556,683 C560,680 562,676 563,672 L566,661" fill="none" stroke="#2a2a2a" stroke-width="1.38"/>
<path d="M416.4,699.9 L499.5,646.4 C503.5,643.8 512.5,643.8 516.3,646.9 L550.8,669.2" fill="none" stroke="#2a2a2a" stroke-width="1.26"/>
<path d="M419,702.4 L500.8,649.3 C504.5,647 512,647 515.5,649.5 L548.5,671" fill="none" stroke="#2a2a2a" stroke-width="1.15"/>
<path d="M419,702.4 L453,725 C457,727.5 462,727.5 466,725.5 L551,670" fill="none" stroke="#2a2a2a" stroke-width="1.15"/>
<path d="M402.6,680.4 L407.6,695.5" fill="none" stroke="#2a2a2a" stroke-width="1.15"/>
<polyline points="499.5,612.0 499.5,645.0" fill="none" stroke="#2a2a2a" stroke-width="1.15"/>
<polyline points="517.2,612.5 517.2,645.5" fill="none" stroke="#2a2a2a" stroke-width="1.15"/>
<polyline points="449.0,731.0 449.0,746.0" fill="none" stroke="#2a2a2a" stroke-width="1.15"/>
<polyline points="469.0,731.0 469.0,745.0" fill="none" stroke="#2a2a2a" stroke-width="1.15"/>
<polyline points="400.0,697.0 403.0,708.0" fill="none" stroke="#2a2a2a" stroke-width="1.15"/>
<polyline points="394.4,644.9 424.9,679.4" fill="none" stroke="#3a3a3a" stroke-width="1.26"/>
<g fill="none" stroke="#707070" stroke-width="1.2" stroke-linecap="round" stroke-linejoin="round"><path transform="translate(379.00,632.00) scale(0.889,1.033)" d="M2.4,0 L0.3,11.2 L5.8,11.2 M4.4,7.6 L4.4,15" vector-effect="non-scaling-stroke"/><path transform="translate(385.49,632.00) scale(0.889,1.033)" d="M6,6.4 C5.5,8 4.4,8.8 2.9,8.8 C1,8.8 0,7.2 0,4.4 C0,1.6 1.2,0 3,0 C5,0 6,2 6,7 C6,12.5 5,15 2.8,15 C1.8,15 1,14.6 0.4,14" vector-effect="non-scaling-stroke"/></g>
<polyline points="469.7,491.5 830.0,730.0" fill="none" stroke="#2a2a2a" stroke-width="1.26" stroke-dasharray="13 2.5 2 2.5"/>
<polyline points="581.0,498.0 632.0,533.3" fill="none" stroke="#2a2a2a" stroke-width="1.26" stroke-dasharray="13 2.5 2 2.5"/>
<polyline points="635.0,535.3 666.0,556.5" fill="none" stroke="#2a2a2a" stroke-width="1.26" stroke-dasharray="13 2.5 2 2.5"/>
<circle cx="613.7" cy="519.8" r="1.7" fill="#111"/>
<circle cx="620.8" cy="527.5" r="1.7" fill="#111"/>
<path d="M630,531 L634,533.5" fill="none" stroke="#2a2a2a" stroke-width="2.88"/>
<polyline points="603.8,486.9 613.7,518.0" fill="none" stroke="#3a3a3a" stroke-width="1.26"/>
<g fill="none" stroke="#707070" stroke-width="1.2" stroke-linecap="round" stroke-linejoin="round"><path transform="translate(592.00,470.00) scale(0.889,1.033)" d="M0.2,1.6 C1,0.4 2,0 3,0 C4.8,0 5.8,1.4 5.8,3.6 C5.8,5.8 4.6,7 2.4,7 C4.8,7 6,8.4 6,11 C6,13.6 4.8,15 3,15 C1.8,15 0.8,14.4 0,13.2" vector-effect="non-scaling-stroke"/><path transform="translate(598.49,470.00) scale(0.889,1.033)" d="M3,0 C0.6,0 0,3.5 0,7.5 C0,11.5 0.6,15 3,15 C5.4,15 6,11.5 6,7.5 C6,3.5 5.4,0 3,0Z" vector-effect="non-scaling-stroke"/></g>
<polyline points="598.2,530.7 619.0,527.8" fill="none" stroke="#3a3a3a" stroke-width="1.26"/>
<g fill="none" stroke="#707070" stroke-width="1.2" stroke-linecap="round" stroke-linejoin="round"><path transform="translate(577.00,522.00) scale(0.889,1.033)" d="M0.2,3 C0.4,0.6 1.8,0 3,0 C4.8,0 5.8,1.2 5.8,3.6 C5.8,6.5 2.5,10 0,15 L6,15" vector-effect="non-scaling-stroke"/><path transform="translate(583.49,522.00) scale(0.889,1.033)" d="M6,6.4 C5.5,8 4.4,8.8 2.9,8.8 C1,8.8 0,7.2 0,4.4 C0,1.6 1.2,0 3,0 C5,0 6,2 6,7 C6,12.5 5,15 2.8,15 C1.8,15 1,14.6 0.4,14" vector-effect="non-scaling-stroke"/></g>
<polyline points="642.0,505.2 632.0,531.0" fill="none" stroke="#3a3a3a" stroke-width="1.26"/>
<g fill="none" stroke="#707070" stroke-width="1.2" stroke-linecap="round" stroke-linejoin="round"><path transform="translate(641.00,486.00) scale(0.889,1.033)" d="M0.2,3 C0.4,0.6 1.8,0 3,0 C4.8,0 5.8,1.2 5.8,3.6 C5.8,6.5 2.5,10 0,15 L6,15" vector-effect="non-scaling-stroke"/><path transform="translate(647.49,486.00) scale(0.889,1.033)" d="M3,7 C1,7 0.3,5.6 0.3,3.5 C0.3,1.2 1.4,0 3,0 C4.6,0 5.7,1.2 5.7,3.5 C5.7,5.6 5,7 3,7 C1,7 0,8.6 0,11 C0,13.6 1.3,15 3,15 C4.7,15 6,13.6 6,11 C6,8.6 5,7 3,7Z" vector-effect="non-scaling-stroke"/></g>
<path d="M667.3,503 C667.5,500.5 670,499.5 671.5,499.7 L674.9,501.1 L675.6,502.8 L675.6,530" fill="none" stroke="#2a2a2a" stroke-width="1.49"/>
<polyline points="667.3,503.0 667.3,531.0" fill="none" stroke="#2a2a2a" stroke-width="1.38"/>
<circle cx="673" cy="516" r="1.2" fill="#111"/>
<path d="M589,555.5 L591,552.5 L593.5,551 L597.3,552.4 L597.3,582.5 L589,586 Z" fill="none" stroke="#2a2a2a" stroke-width="1.49"/>
<circle cx="593.9" cy="573.1" r="1.3" fill="#111"/>
<path d="M600,574 C604,584 614,588 624.3,584.2 C634,580 646,568 653.4,553.7 C657,546 660,539 661.8,534.3" fill="none" stroke="#2a2a2a" stroke-width="1.49"/>
<path d="M599.5,580 C603,587 611,591.5 617.4,591.2 C624,591 629,589.5 632.7,587 C640,582 646,576 650,570 C655,563 660,552 663.1,541.3 L668.7,535.7 L675.6,530" fill="none" stroke="#2a2a2a" stroke-width="1.49"/>
<polyline points="598.0,574.5 665.9,530.2" fill="none" stroke="#2a2a2a" stroke-width="1.72"/>
<polyline points="691.4,502.4 674.5,510.9" fill="none" stroke="#3a3a3a" stroke-width="1.26"/>
<g fill="none" stroke="#707070" stroke-width="1.2" stroke-linecap="round" stroke-linejoin="round"><path transform="translate(690.00,490.50) scale(0.889,1.033)" d="M0.2,3 C0.4,0.6 1.8,0 3,0 C4.8,0 5.8,1.2 5.8,3.6 C5.8,6.5 2.5,10 0,15 L6,15" vector-effect="non-scaling-stroke"/><path transform="translate(696.49,490.50) scale(0.889,1.033)" d="M0,0 L6,0 L2.2,15" vector-effect="non-scaling-stroke"/></g>
<ellipse cx="677.6" cy="564.4" rx="15" ry="23" transform="rotate(14.6 677.6 564.4)" fill="none" stroke="#2a2a2a" stroke-width="1.49"/>
<ellipse cx="677.2" cy="564.4" rx="10.5" ry="16.5" transform="rotate(14.6 677.2 564.4)" fill="none" stroke="#2a2a2a" stroke-width="1.26"/>
<ellipse cx="676.8" cy="564.2" rx="3.6" ry="5.4" transform="rotate(14.6 676.8 564.2)" fill="none" stroke="#2a2a2a" stroke-width="2.99"/>
<polyline points="664.6,556.0 672.0,561.0" fill="none" stroke="#2a2a2a" stroke-width="1.26"/>
<polyline points="687.0,570.0 698.0,577.0" fill="none" stroke="#2a2a2a" stroke-width="1.26"/>
<polyline points="717.0,518.0 687.2,544.8" fill="none" stroke="#3a3a3a" stroke-width="1.26"/>
<g fill="none" stroke="#707070" stroke-width="1.2" stroke-linecap="round" stroke-linejoin="round"><path transform="translate(718.00,507.00) scale(0.889,1.033)" d="M0.2,3 C0.4,0.6 1.8,0 3,0 C4.8,0 5.8,1.2 5.8,3.6 C5.8,6.5 2.5,10 0,15 L6,15" vector-effect="non-scaling-stroke"/><path transform="translate(724.49,507.00) scale(0.889,1.033)" d="M5.4,1 C4.8,0.3 4,0 3.2,0 C1,0 0,3 0,8 C0,13 1,15 3,15 C5,15 6,13.4 6,10.6 C6,7.8 5,6.2 3.1,6.2 C1.6,6.2 0.5,7.2 0,8.6" vector-effect="non-scaling-stroke"/></g>
<ellipse cx="720.9" cy="592" rx="28.7" ry="54.7" transform="rotate(25.2 720.9 592)" fill="none" stroke="#2a2a2a" stroke-width="1.49"/>
<ellipse cx="721.8" cy="593.6" rx="3.3" ry="5.6" transform="rotate(28 721.8 593.6)" fill="none" stroke="#2a2a2a" stroke-width="1.72"/>
<polyline points="718.5,596.0 725.0,591.0" fill="none" stroke="#2a2a2a" stroke-width="1.15"/>
<path d="M739.8,576 L740.3,588.5" fill="none" stroke="#2a2a2a" stroke-width="2.07"/>
<polyline points="738.6,577.0 740.0,576.0" fill="none" stroke="#2a2a2a" stroke-width="1.61"/>
<path d="M703.6,599 L703.3,611.5" fill="none" stroke="#2a2a2a" stroke-width="2.07"/>
<polyline points="702.5,600.5 703.6,599.0" fill="none" stroke="#2a2a2a" stroke-width="1.61"/>
<polyline points="725.0,596.0 755.0,613.0" fill="none" stroke="#2a2a2a" stroke-width="1.26" stroke-dasharray="13 2.5 2 2.5"/>
<polyline points="773.4,529.3 741.0,561.8" fill="none" stroke="#3a3a3a" stroke-width="1.26"/>
<g fill="none" stroke="#707070" stroke-width="1.2" stroke-linecap="round" stroke-linejoin="round"><path transform="translate(775.00,517.00) scale(0.889,1.033)" d="M0.2,3 C0.4,0.6 1.8,0 3,0 C4.8,0 5.8,1.2 5.8,3.6 C5.8,6.5 2.5,10 0,15 L6,15" vector-effect="non-scaling-stroke"/><path transform="translate(781.49,517.00) scale(0.889,1.033)" d="M5.6,0 L0.9,0 L0.4,6.6 C1.2,5.6 2.2,5.2 3,5.2 C5,5.2 6,7 6,10 C6,13.2 4.8,15 3,15 C1.8,15 0.8,14.4 0,13.2" vector-effect="non-scaling-stroke"/></g>
<ellipse cx="761.9" cy="620.9" rx="13.6" ry="22.8" transform="rotate(20.2 761.9 620.9)" fill="none" stroke="#2a2a2a" stroke-width="1.49"/>
<ellipse cx="762.5" cy="621.5" rx="4.6" ry="6.6" transform="rotate(20 762.5 621.5)" fill="none" stroke="#2a2a2a" stroke-width="1.26"/>
<ellipse cx="762.5" cy="621.5" rx="1.7" ry="2.5" transform="rotate(20 762.5 621.5)" fill="none" stroke="#2a2a2a" stroke-width="1.61"/>
<polyline points="766.0,623.0 780.0,632.0" fill="none" stroke="#2a2a2a" stroke-width="1.15"/>
<polygon points="788.8,635.5 787.0,639.2 783.4,639.2 781.6,635.5 783.4,631.8 787.0,631.8" fill="none" stroke="#2a2a2a" stroke-width="1.95"/>
<ellipse cx="785.2" cy="635.5" rx="1.7" ry="2.2" transform="rotate(0 785.2 635.5)" fill="none" stroke="#2a2a2a" stroke-width="1.38"/>
<polyline points="805.4,560.4 772.0,604.2" fill="none" stroke="#3a3a3a" stroke-width="1.26"/>
<g fill="none" stroke="#707070" stroke-width="1.2" stroke-linecap="round" stroke-linejoin="round"><path transform="translate(806.00,548.00) scale(0.889,1.033)" d="M0.2,3 C0.4,0.6 1.8,0 3,0 C4.8,0 5.8,1.2 5.8,3.6 C5.8,6.5 2.5,10 0,15 L6,15" vector-effect="non-scaling-stroke"/><path transform="translate(812.49,548.00) scale(0.889,1.033)" d="M2.4,0 L0.3,11.2 L5.8,11.2 M4.4,7.6 L4.4,15" vector-effect="non-scaling-stroke"/></g>
<polyline points="828.5,584.4 788.0,631.0" fill="none" stroke="#3a3a3a" stroke-width="1.26"/>
<g fill="none" stroke="#707070" stroke-width="1.2" stroke-linecap="round" stroke-linejoin="round"><path transform="translate(830.00,572.00) scale(0.889,1.033)" d="M0.2,3 C0.4,0.6 1.8,0 3,0 C4.8,0 5.8,1.2 5.8,3.6 C5.8,6.5 2.5,10 0,15 L6,15" vector-effect="non-scaling-stroke"/><path transform="translate(836.49,572.00) scale(0.889,1.033)" d="M0.2,1.6 C1,0.4 2,0 3,0 C4.8,0 5.8,1.4 5.8,3.6 C5.8,5.8 4.6,7 2.4,7 C4.8,7 6,8.4 6,11 C6,13.6 4.8,15 3,15 C1.8,15 0.8,14.4 0,13.2" vector-effect="non-scaling-stroke"/></g>
<path d="M782.4,654.1 L793,656.5 L793,676" fill="none" stroke="#2a2a2a" stroke-width="1.38"/>
<polyline points="793.0,655.5 846.6,618.6" fill="none" stroke="#2a2a2a" stroke-width="2.64"/>
<path d="M846.6,618.6 L849,614.5 L851.5,615 L853,617.5 L855.7,615.6 L857.2,621.6 L864.7,630.7" fill="none" stroke="#2a2a2a" stroke-width="1.38"/>
<polyline points="846.6,618.6 849.0,621.0" fill="none" stroke="#2a2a2a" stroke-width="1.15"/>
<polyline points="793.7,674.5 864.7,630.7" fill="none" stroke="#2a2a2a" stroke-width="1.49"/>
<polyline points="795.2,676.8 865.5,633.7" fill="none" stroke="#2a2a2a" stroke-width="1.26"/>
<path d="M864.7,630.7 C866.5,636 866.6,648 865.5,657.9 C864.3,666 863,670 861.7,673 C860,677 858,680 855.7,682" fill="none" stroke="#2a2a2a" stroke-width="1.49"/>
<path d="M855.7,682 L802.8,716" fill="none" stroke="#2a2a2a" stroke-width="1.49"/>
<path d="M859.5,679 L806,714.5" fill="none" stroke="#2a2a2a" stroke-width="1.03"/>
<path d="M782.4,654.1 C779.3,665 779.4,686 783.1,698.7 C785,704 788,707 791.4,709.3 L802.8,716" fill="none" stroke="#2a2a2a" stroke-width="1.49"/>
<path d="M793.7,676 C794,686 795.2,696 797.5,703.2 C799,708 800.5,711 802.8,713.8" fill="none" stroke="#2a2a2a" stroke-width="1.26"/>
<path d="M780.9,664.7 L772.6,669.2 L772.6,709.3 L781.6,704.7" fill="none" stroke="#2a2a2a" stroke-width="1.49"/>
<circle cx="776" cy="696" r="1.0" fill="#111"/>
<path d="M826,695.5 L838.5,687.5 L839.5,689.8 L827,697.8 Z" fill="none" stroke="#2a2a2a" stroke-width="1.49"/>
<polyline points="862.6,647.4 861.5,648.5" fill="none" stroke="#2a2a2a" stroke-width="1.15"/>
<polyline points="782.0,702.0 822.0,727.0" fill="none" stroke="#2a2a2a" stroke-width="1.15" stroke-dasharray="13 2.5 2 2.5"/>
<circle cx="823.6" cy="728.2" r="1.8" fill="#111"/>
<ellipse cx="834.8" cy="736.3" rx="2.4" ry="2.8" transform="rotate(-30 834.8 736.3)" fill="none" stroke="#2a2a2a" stroke-width="2.07"/>
<polyline points="831.0,733.5 833.0,735.0" fill="none" stroke="#2a2a2a" stroke-width="1.72"/>
<polyline points="753.5,754.7 822.2,731.0" fill="none" stroke="#3a3a3a" stroke-width="1.26"/>
<g fill="none" stroke="#707070" stroke-width="1.2" stroke-linecap="round" stroke-linejoin="round"><path transform="translate(741.50,750.00) scale(0.889,1.033)" d="M0.2,3 C0.4,0.6 1.8,0 3,0 C4.8,0 5.8,1.2 5.8,3.6 C5.8,6.5 2.5,10 0,15 L6,15" vector-effect="non-scaling-stroke"/><path transform="translate(747.99,750.00) scale(0.889,1.033)" d="M1.9,1.8 L3.4,0 L3.4,15" vector-effect="non-scaling-stroke"/></g>
<polyline points="800.6,772.7 833.0,739.0" fill="none" stroke="#3a3a3a" stroke-width="1.26"/>
<g fill="none" stroke="#707070" stroke-width="1.2" stroke-linecap="round" stroke-linejoin="round"><path transform="translate(786.00,769.00) scale(0.889,1.033)" d="M0.2,3 C0.4,0.6 1.8,0 3,0 C4.8,0 5.8,1.2 5.8,3.6 C5.8,6.5 2.5,10 0,15 L6,15" vector-effect="non-scaling-stroke"/><path transform="translate(792.49,769.00) scale(0.889,1.033)" d="M3,0 C0.6,0 0,3.5 0,7.5 C0,11.5 0.6,15 3,15 C5.4,15 6,11.5 6,7.5 C6,3.5 5.4,0 3,0Z" vector-effect="non-scaling-stroke"/></g>
<polyline points="899.0,609.6 862.6,647.4" fill="none" stroke="#3a3a3a" stroke-width="1.26"/>
<g fill="none" stroke="#707070" stroke-width="1.2" stroke-linecap="round" stroke-linejoin="round"><path transform="translate(899.00,597.00) scale(0.889,1.033)" d="M0.2,3 C0.4,0.6 1.8,0 3,0 C4.8,0 5.8,1.2 5.8,3.6 C5.8,6.5 2.5,10 0,15 L6,15" vector-effect="non-scaling-stroke"/><path transform="translate(905.49,597.00) scale(0.889,1.033)" d="M0.2,3 C0.4,0.6 1.8,0 3,0 C4.8,0 5.8,1.2 5.8,3.6 C5.8,6.5 2.5,10 0,15 L6,15" vector-effect="non-scaling-stroke"/></g>
<polygon points="704.9,266.4 658.4,449.1 668.3,487.2 793.4,487.2 1123.8,282.8 1097.2,184.7 1034.3,163.3" fill="none" stroke="#333" stroke-width="1.49"/>
<polyline points="1055.1,170.2 1096.8,124.8" fill="none" stroke="#3a3a3a" stroke-width="1.26"/>
<g fill="none" stroke="#707070" stroke-width="1.2" stroke-linecap="round" stroke-linejoin="round"><path transform="translate(1097.50,114.30) scale(0.930,1.107)" d="M5.6,0 L0.9,0 L0.4,6.6 C1.2,5.6 2.2,5.2 3,5.2 C5,5.2 6,7 6,10 C6,13.2 4.8,15 3,15 C1.8,15 0.8,14.4 0,13.2" vector-effect="non-scaling-stroke"/><path transform="translate(1104.29,114.30) scale(0.930,1.107)" d="M0.2,1.6 C1,0.4 2,0 3,0 C4.8,0 5.8,1.4 5.8,3.6 C5.8,5.8 4.6,7 2.4,7 C4.8,7 6,8.4 6,11 C6,13.6 4.8,15 3,15 C1.8,15 0.8,14.4 0,13.2" vector-effect="non-scaling-stroke"/></g>
<polyline points="797.7,318.4 956.7,212.4" fill="none" stroke="#2a2a2a" stroke-width="1.38"/>
<path d="M956.7,212.4 L959.5,211.5 L960.5,213 L959.5,215.5 L962,217 L964.5,215.5 L966.4,217.7 L967.3,257.5" fill="none" stroke="#2a2a2a" stroke-width="1.38"/>
<polyline points="797.0,320.0 805.4,323.5" fill="none" stroke="#2a2a2a" stroke-width="1.26"/>
<polyline points="805.4,323.5 966.4,217.7" fill="none" stroke="#2a2a2a" stroke-width="1.26"/>
<polyline points="806.5,328.3 967.3,223.0" fill="none" stroke="#555" stroke-width="3.45"/>
<polyline points="806.5,326.7 967.3,221.4" fill="none" stroke="#222" stroke-width="0.92"/>
<polyline points="806.5,329.9 967.3,224.6" fill="none" stroke="#222" stroke-width="0.92"/>
<polyline points="806.5,334.7 967.3,229.4" fill="none" stroke="#555" stroke-width="3.45"/>
<polyline points="806.5,333.1 967.3,227.8" fill="none" stroke="#222" stroke-width="0.92"/>
<polyline points="806.5,336.3 967.3,231.0" fill="none" stroke="#222" stroke-width="0.92"/>
<polyline points="806.5,341.3 967.3,236.0" fill="none" stroke="#555" stroke-width="3.45"/>
<polyline points="806.5,339.7 967.3,234.4" fill="none" stroke="#222" stroke-width="0.92"/>
<polyline points="806.5,342.9 967.3,237.6" fill="none" stroke="#222" stroke-width="0.92"/>
<polyline points="805.4,349.0 967.3,243.0" fill="none" stroke="#2a2a2a" stroke-width="1.38"/>
<polyline points="797.0,320.0 797.0,344.0" fill="none" stroke="#2a2a2a" stroke-width="1.26"/>
<polyline points="805.4,323.5 805.4,349.0" fill="none" stroke="#2a2a2a" stroke-width="1.26"/>
<polyline points="797.0,344.0 805.4,349.0" fill="none" stroke="#2a2a2a" stroke-width="1.15"/>
<polyline points="797.5,326.0 805.0,330.0" fill="none" stroke="#2a2a2a" stroke-width="1.03"/>
<polyline points="797.5,330.0 805.0,334.0" fill="none" stroke="#2a2a2a" stroke-width="1.03"/>
<polyline points="797.5,334.0 805.0,338.0" fill="none" stroke="#2a2a2a" stroke-width="1.03"/>
<polyline points="797.5,338.0 805.0,342.0" fill="none" stroke="#2a2a2a" stroke-width="1.03"/>
<polyline points="797.5,342.0 805.0,346.0" fill="none" stroke="#2a2a2a" stroke-width="1.03"/>
<path d="M802,272.5 C802,271.5 803,271.3 805,271.3 C807,271.3 808,271.5 808,272.5 L808,278 L802,278 Z" fill="none" stroke="#2a2a2a" stroke-width="1.38"/>
<path d="M803.4,278 L803.4,284.5 L806.4,284.5 L806.4,278" fill="none" stroke="#2a2a2a" stroke-width="1.15"/>
<polyline points="804.9,284.5 804.9,320.0" fill="none" stroke="#2a2a2a" stroke-width="1.26"/>
<ellipse cx="804.6" cy="292.4" rx="2.6" ry="2.0" transform="rotate(0 804.6 292.4)" fill="#111" stroke="#2a2a2a" stroke-width="0.57"/>
<ellipse cx="804.6" cy="301.7" rx="3.3" ry="2.6" transform="rotate(0 804.6 301.7)" fill="#111" stroke="#2a2a2a" stroke-width="0.57"/>
<circle cx="805.1" cy="319.8" r="1.5" fill="#111"/>
<path d="M815.4,262.8 C815.4,261.8 816.5,261.6 818.4,261.6 C820.3,261.6 821.4,261.8 821.4,262.8 L821.4,267.9 L815.4,267.9 Z" fill="none" stroke="#2a2a2a" stroke-width="1.38"/>
<path d="M816.8,267.9 L816.8,275 L819.6,275 L819.6,267.9" fill="none" stroke="#2a2a2a" stroke-width="1.15"/>
<polyline points="818.2,275.0 818.2,311.0" fill="none" stroke="#2a2a2a" stroke-width="1.26"/>
<ellipse cx="818" cy="283.6" rx="2.6" ry="2.0" transform="rotate(0 818 283.6)" fill="#111" stroke="#2a2a2a" stroke-width="0.57"/>
<ellipse cx="818" cy="292.9" rx="3.3" ry="2.6" transform="rotate(0 818 292.9)" fill="#111" stroke="#2a2a2a" stroke-width="0.57"/>
<circle cx="818" cy="310.8" r="1.5" fill="#111"/>
<polyline points="841.0,232.7 819.8,262.7" fill="none" stroke="#3a3a3a" stroke-width="1.26"/>
<g fill="none" stroke="#707070" stroke-width="1.2" stroke-linecap="round" stroke-linejoin="round"><path transform="translate(839.00,224.00) scale(0.889,1.033)" d="M1.9,1.8 L3.4,0 L3.4,15" vector-effect="non-scaling-stroke"/><path transform="translate(845.49,224.00) scale(0.889,1.033)" d="M1.9,1.8 L3.4,0 L3.4,15" vector-effect="non-scaling-stroke"/></g>
<polyline points="771.5,266.0 802.5,291.8" fill="none" stroke="#3a3a3a" stroke-width="1.26"/>
<g fill="none" stroke="#707070" stroke-width="1.2" stroke-linecap="round" stroke-linejoin="round"><path transform="translate(755.00,252.00) scale(0.889,1.033)" d="M1.9,1.8 L3.4,0 L3.4,15" vector-effect="non-scaling-stroke"/><path transform="translate(761.49,252.00) scale(0.889,1.033)" d="M0.2,3 C0.4,0.6 1.8,0 3,0 C4.8,0 5.8,1.2 5.8,3.6 C5.8,6.5 2.5,10 0,15 L6,15" vector-effect="non-scaling-stroke"/></g>
<polyline points="771.5,296.7 801.0,300.5" fill="none" stroke="#3a3a3a" stroke-width="1.26"/>
<g fill="none" stroke="#707070" stroke-width="1.2" stroke-linecap="round" stroke-linejoin="round"><path transform="translate(759.50,289.00) scale(0.889,1.033)" d="M2.4,0 L0.3,11.2 L5.8,11.2 M4.4,7.6 L4.4,15" vector-effect="non-scaling-stroke"/></g>
<polyline points="760.7,334.0 797.0,321.4" fill="none" stroke="#3a3a3a" stroke-width="1.26"/>
<g fill="none" stroke="#707070" stroke-width="1.2" stroke-linecap="round" stroke-linejoin="round"><path transform="translate(741.00,329.00) scale(0.889,1.033)" d="M1.9,1.8 L3.4,0 L3.4,15" vector-effect="non-scaling-stroke"/><path transform="translate(747.49,329.00) scale(0.889,1.033)" d="M0.2,1.6 C1,0.4 2,0 3,0 C4.8,0 5.8,1.4 5.8,3.6 C5.8,5.8 4.6,7 2.4,7 C4.8,7 6,8.4 6,11 C6,13.6 4.8,15 3,15 C1.8,15 0.8,14.4 0,13.2" vector-effect="non-scaling-stroke"/></g>
<polyline points="1066.6,212.4 909.6,321.3" fill="none" stroke="#2a2a2a" stroke-width="1.26"/>
<polyline points="1068.5,215.8 911.0,324.2" fill="none" stroke="#2a2a2a" stroke-width="1.26"/>
<ellipse cx="1070.2" cy="211.3" rx="3.0" ry="4.1" transform="rotate(-25 1070.2 211.3)" fill="#111" stroke="#2a2a2a" stroke-width="0.92"/>
<path d="M909.6,321.3 C908.5,322.5 909.5,324.5 911,324.2" fill="none" stroke="#2a2a2a" stroke-width="1.15"/>
<polyline points="1048.0,230.0 1078.0,244.8" fill="none" stroke="#3a3a3a" stroke-width="1.26"/>
<g fill="none" stroke="#707070" stroke-width="1.2" stroke-linecap="round" stroke-linejoin="round"><path transform="translate(1082.00,243.50) scale(0.889,1.033)" d="M0,0 L6,0 L2.2,15" vector-effect="non-scaling-stroke"/></g>
<path d="M886.9,310.6 L895.5,315.6 L898,320.2 L898,352.4 L894.4,357.4 L886.4,352.4 Z" fill="none" stroke="#2a2a2a" stroke-width="1.38"/>
<polyline points="887.2,312.2 895.0,316.8" fill="none" stroke="#2a2a2a" stroke-width="2.76"/>
<polyline points="886.8,352.6 894.4,356.8" fill="none" stroke="#2a2a2a" stroke-width="3.45"/>
<polyline points="888.8,313.0 888.8,351.0" fill="none" stroke="#2a2a2a" stroke-width="1.15"/>
<polyline points="895.3,319.5 895.3,356.5" fill="none" stroke="#2a2a2a" stroke-width="1.15"/>
<path d="M890,333.5 L892.2,333.5 L892.2,336.5 L890,336.5 Z" fill="#222" stroke="#2a2a2a" stroke-width="1.38"/>
<polyline points="891.0,343.3 956.5,355.6" fill="none" stroke="#3a3a3a" stroke-width="1.26"/>
<g fill="none" stroke="#707070" stroke-width="1.2" stroke-linecap="round" stroke-linejoin="round"><path transform="translate(957.50,347.50) scale(0.889,1.033)" d="M3,7 C1,7 0.3,5.6 0.3,3.5 C0.3,1.2 1.4,0 3,0 C4.6,0 5.7,1.2 5.7,3.5 C5.7,5.6 5,7 3,7 C1,7 0,8.6 0,11 C0,13.6 1.3,15 3,15 C4.7,15 6,13.6 6,11 C6,8.6 5,7 3,7Z" vector-effect="non-scaling-stroke"/></g>
<polyline points="860.8,354.8 867.6,351.2" fill="none" stroke="#222" stroke-width="4.83"/>
<polyline points="868.2,350.4 889.4,336.3" fill="none" stroke="#2a2a2a" stroke-width="1.15" stroke-dasharray="3 2.5"/>
<polyline points="868.2,353.4 920.0,384.0" fill="none" stroke="#3a3a3a" stroke-width="1.26"/>
<g fill="none" stroke="#707070" stroke-width="1.2" stroke-linecap="round" stroke-linejoin="round"><path transform="translate(921.00,381.50) scale(0.889,1.033)" d="M6,6.4 C5.5,8 4.4,8.8 2.9,8.8 C1,8.8 0,7.2 0,4.4 C0,1.6 1.2,0 3,0 C5,0 6,2 6,7 C6,12.5 5,15 2.8,15 C1.8,15 1,14.6 0.4,14" vector-effect="non-scaling-stroke"/></g>
<path d="M846,356 L851.5,353.8 L855.7,356.5 L855.7,368.5 L850.5,370.8 L846,368 Z" fill="none" stroke="#2a2a2a" stroke-width="1.49"/>
<polyline points="851.5,353.8 851.5,358.0" fill="none" stroke="#2a2a2a" stroke-width="0.92"/>
<polyline points="846.0,356.0 850.5,358.5" fill="none" stroke="#2a2a2a" stroke-width="1.03"/>
<polyline points="850.5,358.5 850.5,370.8" fill="none" stroke="#2a2a2a" stroke-width="1.03"/>
<polyline points="850.5,358.5 855.7,356.5" fill="none" stroke="#2a2a2a" stroke-width="1.03"/>
<circle cx="849.3" cy="363.5" r="1.5" fill="#111"/>
<polyline points="856.0,367.5 877.0,394.0" fill="none" stroke="#3a3a3a" stroke-width="1.26"/>
<g fill="none" stroke="#707070" stroke-width="1.2" stroke-linecap="round" stroke-linejoin="round"><path transform="translate(877.50,393.50) scale(0.889,1.033)" d="M1.9,1.8 L3.4,0 L3.4,15" vector-effect="non-scaling-stroke"/><path transform="translate(883.99,393.50) scale(0.889,1.033)" d="M3,0 C0.6,0 0,3.5 0,7.5 C0,11.5 0.6,15 3,15 C5.4,15 6,11.5 6,7.5 C6,3.5 5.4,0 3,0Z" vector-effect="non-scaling-stroke"/></g>
<path d="M796.9,373.3 L818.3,359.4 L826.5,365.1 L825.9,367.6 L814,375.5 L814,386.5 L814,400 L820.9,404.1 L821.2,414 L810.8,421.8 L786.9,406 L786.9,402.9 L793.8,390.3 L795.7,390.3 L797.6,377 Z" fill="none" stroke="#2a2a2a" stroke-width="1.38"/>
<polyline points="797.6,377.0 804.5,380.8" fill="none" stroke="#2a2a2a" stroke-width="1.26"/>
<polyline points="804.5,380.8 825.9,367.6" fill="none" stroke="#2a2a2a" stroke-width="1.26"/>
<polyline points="804.5,380.8 803.9,413.0" fill="none" stroke="#2a2a2a" stroke-width="1.26"/>
<polyline points="803.9,413.0 810.8,417.5" fill="none" stroke="#2a2a2a" stroke-width="1.15"/>
<polyline points="810.8,417.5 810.8,421.8" fill="none" stroke="#2a2a2a" stroke-width="1.15"/>
<polyline points="810.8,417.5 821.2,411.0" fill="none" stroke="#2a2a2a" stroke-width="1.15"/>
<path d="M807,410.4 L813.3,399.7 L820.9,404.1" fill="none" stroke="#2a2a2a" stroke-width="1.15"/>
<polyline points="813.3,399.7 814.0,386.5" fill="none" stroke="#2a2a2a" stroke-width="1.15"/>
<path d="M786.9,402.9 L803.9,413 M793.8,390.3 L796,398 L790,404" fill="none" stroke="#2a2a2a" stroke-width="1.15"/>
<polyline points="794.5,389.0 800.0,393.0" fill="none" stroke="#2a2a2a" stroke-width="2.30"/>
<ellipse cx="804.5" cy="373.3" rx="1.9" ry="1.4" transform="rotate(-30 804.5 373.3)" fill="none" stroke="#2a2a2a" stroke-width="1.38"/>
<ellipse cx="817.7" cy="363.8" rx="1.9" ry="1.4" transform="rotate(-30 817.7 363.8)" fill="none" stroke="#2a2a2a" stroke-width="1.38"/>
<polyline points="757.3,375.2 799.5,380.2" fill="none" stroke="#3a3a3a" stroke-width="1.26"/>
<g fill="none" stroke="#707070" stroke-width="1.2" stroke-linecap="round" stroke-linejoin="round"><path transform="translate(742.50,367.30) scale(0.889,1.033)" d="M1.9,1.8 L3.4,0 L3.4,15" vector-effect="non-scaling-stroke"/><path transform="translate(748.99,367.30) scale(0.889,1.033)" d="M2.4,0 L0.3,11.2 L5.8,11.2 M4.4,7.6 L4.4,15" vector-effect="non-scaling-stroke"/></g>
<ellipse cx="775.5" cy="413" rx="4.9" ry="6.9" transform="rotate(12 775.5 413)" fill="none" stroke="#2a2a2a" stroke-width="1.95"/>
<circle cx="775.5" cy="413" r="1.6" fill="#111"/>
<ellipse cx="763.6" cy="422.4" rx="4.7" ry="6.7" transform="rotate(12 763.6 422.4)" fill="none" stroke="#2a2a2a" stroke-width="1.95"/>
<circle cx="763.6" cy="422.4" r="1.6" fill="#111"/>
<polyline points="781.8,410.4 786.9,407.3" fill="none" stroke="#2a2a2a" stroke-width="1.15"/>
<polyline points="814.0,386.5 840.0,368.9" fill="none" stroke="#2a2a2a" stroke-width="1.15" stroke-dasharray="5 2.5"/>
<polyline points="766.0,420.5 772.0,416.5" fill="none" stroke="#2a2a2a" stroke-width="1.15"/>
<polyline points="756.0,427.5 760.0,425.0" fill="none" stroke="#2a2a2a" stroke-width="1.15"/>
<path d="M739.5,436 L753.5,427 C755.5,426 757.5,428.5 756.5,430.5 L742,439.8 C740,441 737.5,438 739.5,436 Z" fill="none" stroke="#2a2a2a" stroke-width="1.38"/>
<polyline points="749.5,429.8 752.0,433.5" fill="none" stroke="#2a2a2a" stroke-width="1.03"/>
<polyline points="740.0,437.5 742.5,436.0" fill="none" stroke="#222" stroke-width="2.99"/>
<polyline points="749.1,430.0 716.4,388.4" fill="none" stroke="#3a3a3a" stroke-width="1.26"/>
<g fill="none" stroke="#707070" stroke-width="1.2" stroke-linecap="round" stroke-linejoin="round"><path transform="translate(704.50,377.00) scale(0.889,1.033)" d="M1.9,1.8 L3.4,0 L3.4,15" vector-effect="non-scaling-stroke"/><path transform="translate(710.99,377.00) scale(0.889,1.033)" d="M0,0 L6,0 L2.2,15" vector-effect="non-scaling-stroke"/></g>
<polyline points="712.4,433.3 717.8,437.8" fill="none" stroke="#333" stroke-width="2.99"/>
<polyline points="712.6,433.0 698.0,419.0" fill="none" stroke="#3a3a3a" stroke-width="1.26"/>
<g fill="none" stroke="#707070" stroke-width="1.2" stroke-linecap="round" stroke-linejoin="round"><path transform="translate(676.00,401.00) scale(0.889,1.033)" d="M1.9,1.8 L3.4,0 L3.4,15" vector-effect="non-scaling-stroke"/><path transform="translate(682.49,401.00) scale(0.889,1.033)" d="M3,7 C1,7 0.3,5.6 0.3,3.5 C0.3,1.2 1.4,0 3,0 C4.6,0 5.7,1.2 5.7,3.5 C5.7,5.6 5,7 3,7 C1,7 0,8.6 0,11 C0,13.6 1.3,15 3,15 C4.7,15 6,13.6 6,11 C6,8.6 5,7 3,7Z" vector-effect="non-scaling-stroke"/></g>
<path d="M723.5,443.5 L729.9,440.1 L735.2,443.1 L735.6,455.2 L729.9,459.7 L723.5,456.7 Z" fill="none" stroke="#2a2a2a" stroke-width="1.49"/>
<polyline points="729.9,446.0 729.9,459.7" fill="none" stroke="#2a2a2a" stroke-width="1.15"/>
<polyline points="723.5,453.5 735.6,452.5" fill="none" stroke="#2a2a2a" stroke-width="0.92"/>
<polyline points="724.2,444.5 729.0,441.8" fill="none" stroke="#222" stroke-width="2.99"/>
<polyline points="731.0,446.0 735.0,443.5" fill="none" stroke="#222" stroke-width="2.99"/>
<polyline points="727.5,444.5 731.5,446.5" fill="none" stroke="#2a2a2a" stroke-width="1.84"/>
<path d="M726.9,459.5 L726.9,465.3 M733,458.5 L733,467.5" fill="none" stroke="#2a2a2a" stroke-width="1.15"/>
<polyline points="728.5,460.0 728.5,466.0" fill="none" stroke="#777" stroke-width="0.80"/>
<polyline points="730.8,460.0 730.8,467.0" fill="none" stroke="#777" stroke-width="0.80"/>
<path d="M724.3,465 L733,468.4 L735,469.6 L734.1,477.9 L732.6,479 L725,474.8 Z" fill="none" stroke="#2a2a2a" stroke-width="1.49"/>
<polyline points="724.5,465.6 734.6,469.4" fill="none" stroke="#222" stroke-width="2.99"/>
<polyline points="733.0,469.0 733.0,478.8" fill="none" stroke="#2a2a2a" stroke-width="1.15"/>
<polyline points="729.9,452.6 686.0,455.5" fill="none" stroke="#3a3a3a" stroke-width="1.26"/>
<g fill="none" stroke="#707070" stroke-width="1.2" stroke-linecap="round" stroke-linejoin="round"><path transform="translate(670.00,448.50) scale(0.889,1.033)" d="M1.9,1.8 L3.4,0 L3.4,15" vector-effect="non-scaling-stroke"/><path transform="translate(676.49,448.50) scale(0.889,1.033)" d="M6,6.4 C5.5,8 4.4,8.8 2.9,8.8 C1,8.8 0,7.2 0,4.4 C0,1.6 1.2,0 3,0 C5,0 6,2 6,7 C6,12.5 5,15 2.8,15 C1.8,15 1,14.6 0.4,14" vector-effect="non-scaling-stroke"/></g>
<polyline points="766.0,429.0 777.0,452.0" fill="none" stroke="#3a3a3a" stroke-width="1.26"/>
<g fill="none" stroke="#707070" stroke-width="1.2" stroke-linecap="round" stroke-linejoin="round"><path transform="translate(771.00,449.00) scale(0.889,1.033)" d="M1.9,1.8 L3.4,0 L3.4,15" vector-effect="non-scaling-stroke"/><path transform="translate(777.49,449.00) scale(0.889,1.033)" d="M5.4,1 C4.8,0.3 4,0 3.2,0 C1,0 0,3 0,8 C0,13 1,15 3,15 C5,15 6,13.4 6,10.6 C6,7.8 5,6.2 3.1,6.2 C1.6,6.2 0.5,7.2 0,8.6" vector-effect="non-scaling-stroke"/></g>
<polyline points="780.6,415.5 802.0,433.7" fill="none" stroke="#3a3a3a" stroke-width="1.26"/>
<g fill="none" stroke="#707070" stroke-width="1.2" stroke-linecap="round" stroke-linejoin="round"><path transform="translate(804.00,434.50) scale(0.889,1.033)" d="M1.9,1.8 L3.4,0 L3.4,15" vector-effect="non-scaling-stroke"/><path transform="translate(810.49,434.50) scale(0.889,1.033)" d="M5.6,0 L0.9,0 L0.4,6.6 C1.2,5.6 2.2,5.2 3,5.2 C5,5.2 6,7 6,10 C6,13.2 4.8,15 3,15 C1.8,15 0.8,14.4 0,13.2" vector-effect="non-scaling-stroke"/></g>
<path d="M912.4,456.1 L921.6,449.8 L978.1,488 L968.9,494.3 Z" fill="none" stroke="#2a2a2a" stroke-width="1.38"/>
<polyline points="912.4,457.6 968.9,495.3" fill="none" stroke="#2a2a2a" stroke-width="2.30"/>
<polyline points="912.4,456.1 912.4,458.0" fill="none" stroke="#2a2a2a" stroke-width="1.38"/>
<path d="M968.9,494.3 L968.9,497.5 M978.1,488 L978.1,497.8 L976,496.5 L976,492" fill="none" stroke="#2a2a2a" stroke-width="1.49"/>
<path d="M884.1,477.3 L912.4,457.6 M884.1,477.3 L936.4,477.3 L938,478 M884.1,477.3 L884.1,485.8 L936.4,485.8 L936.4,477.5" fill="none" stroke="#2a2a2a" stroke-width="1.49"/>
<path d="M939.3,478.8 L939.3,522.6 L969.6,503.5 L969.6,495.5 M939.3,514.8 L969.6,496.4" fill="none" stroke="#2a2a2a" stroke-width="1.49"/>
<polyline points="961.2,483.0 993.0,457.6" fill="none" stroke="#3a3a3a" stroke-width="1.26"/>
<g fill="none" stroke="#707070" stroke-width="1.2" stroke-linecap="round" stroke-linejoin="round"><path transform="translate(995.50,449.00) scale(0.889,1.033)" d="M5.6,0 L0.9,0 L0.4,6.6 C1.2,5.6 2.2,5.2 3,5.2 C5,5.2 6,7 6,10 C6,13.2 4.8,15 3,15 C1.8,15 0.8,14.4 0,13.2" vector-effect="non-scaling-stroke"/><path transform="translate(1001.99,449.00) scale(0.889,1.033)" d="M0.2,3 C0.4,0.6 1.8,0 3,0 C4.8,0 5.8,1.2 5.8,3.6 C5.8,6.5 2.5,10 0,15 L6,15" vector-effect="non-scaling-stroke"/></g>
<path d="M680.2,123.4 L750.8,84.9 L784.1,78.6 C787,78 790,79 792,80.5 L795.6,84.9 C797.5,87 797.5,92 794.4,95.8 L712,150.5 C709,152 706,151.5 704.9,149.2 L688.8,134.3 C685,130.5 682,127 680.2,123.4 Z" fill="none" stroke="#2a2a2a" stroke-width="1.38"/>
<path d="M693.4,129.7 L758.8,90.7 L793.3,86.1" fill="none" stroke="#2a2a2a" stroke-width="1.26"/>
<polyline points="750.8,84.9 758.8,90.7" fill="none" stroke="#2a2a2a" stroke-width="1.15"/>
<polyline points="755.5,87.8 789.8,83.2" fill="none" stroke="#2a2a2a" stroke-width="1.15"/>
<polyline points="680.2,123.4 693.4,129.7" fill="none" stroke="#2a2a2a" stroke-width="2.76"/>
<path d="M681.5,126.5 C686,133 691,138.5 698,143.5" fill="none" stroke="#2a2a2a" stroke-width="2.07"/>
<polyline points="710.6,113.6 754.2,88.9" fill="none" stroke="#2a2a2a" stroke-width="2.18"/>
<polyline points="692.2,122.8 703.1,118.2" fill="none" stroke="#555" stroke-width="2.76"/>
<polyline points="714.6,133.7 726.1,127.4" fill="none" stroke="#555" stroke-width="2.76"/>
<circle cx="783.5" cy="98.1" r="1.3" fill="#111"/>
<circle cx="741.6" cy="70.2" r="2.2" fill="#111"/>
<polyline points="741.6,70.2 760.7,82.2" fill="none" stroke="#2a2a2a" stroke-width="1.15"/>
<polyline points="770.0,22.5 742.0,67.6" fill="none" stroke="#3a3a3a" stroke-width="1.26"/>
<g fill="none" stroke="#707070" stroke-width="1.2" stroke-linecap="round" stroke-linejoin="round"><path transform="translate(769.00,6.00) scale(0.889,1.033)" d="M1.9,1.8 L3.4,0 L3.4,15" vector-effect="non-scaling-stroke"/></g>
<polyline points="836.0,49.0 793.8,87.5" fill="none" stroke="#3a3a3a" stroke-width="1.26"/>
<g fill="none" stroke="#707070" stroke-width="1.2" stroke-linecap="round" stroke-linejoin="round"><path transform="translate(836.50,32.50) scale(0.889,1.033)" d="M0.2,3 C0.4,0.6 1.8,0 3,0 C4.8,0 5.8,1.2 5.8,3.6 C5.8,6.5 2.5,10 0,15 L6,15" vector-effect="non-scaling-stroke"/></g>
<polyline points="784.6,99.0 813.7,116.6" fill="none" stroke="#2a2a2a" stroke-width="1.15" stroke-dasharray="4 2.5"/>
<circle cx="815" cy="119.6" r="2.5" fill="#111"/>
<polyline points="817.6,121.0 828.1,128.1" fill="none" stroke="#2a2a2a" stroke-width="1.15"/>
<path d="M828,127.3 L840.6,134.6 M827.4,130 L839.8,137.6" fill="none" stroke="#2a2a2a" stroke-width="1.26"/>
<circle cx="829.6" cy="129.4" r="1.4" fill="#111"/>
<ellipse cx="842.2" cy="137.5" rx="2.0" ry="4.0" transform="rotate(-25 842.2 137.5)" fill="none" stroke="#2a2a2a" stroke-width="1.49"/>
<ellipse cx="847.3" cy="140.2" rx="4.6" ry="6.6" transform="rotate(-25 847.3 140.2)" fill="none" stroke="#1e1e1e" stroke-width="2.99"/>
<ellipse cx="848" cy="140.8" rx="1.8" ry="3.2" transform="rotate(-25 848 140.8)" fill="none" stroke="#2a2a2a" stroke-width="1.38"/>
<circle cx="845" cy="136.5" r="1.1" fill="#111"/>
<circle cx="850.5" cy="143.5" r="1.1" fill="#111"/>
<circle cx="845.5" cy="145" r="1.1" fill="#111"/>
<polyline points="817.5,117.0 851.0,88.0" fill="none" stroke="#3a3a3a" stroke-width="1.26"/>
<g fill="none" stroke="#707070" stroke-width="1.2" stroke-linecap="round" stroke-linejoin="round"><path transform="translate(853.50,77.00) scale(0.889,1.033)" d="M2.4,0 L0.3,11.2 L5.8,11.2 M4.4,7.6 L4.4,15" vector-effect="non-scaling-stroke"/></g>
<polyline points="850.8,140.5 898.5,127.2" fill="none" stroke="#3a3a3a" stroke-width="1.26"/>
<g fill="none" stroke="#707070" stroke-width="1.2" stroke-linecap="round" stroke-linejoin="round"><path transform="translate(899.00,118.00) scale(0.889,1.033)" d="M5.6,0 L0.9,0 L0.4,6.6 C1.2,5.6 2.2,5.2 3,5.2 C5,5.2 6,7 6,10 C6,13.2 4.8,15 3,15 C1.8,15 0.8,14.4 0,13.2" vector-effect="non-scaling-stroke"/></g>
<path d="M759.2,169.6 L773.3,159 L774,146.3 C774.2,145 775,144.5 775.4,144.1 L781.8,141 L782.9,141.7 L783.2,171 L774.4,177 C772,176 770,174.5 769.8,173.8 C766,171.5 762,170.3 759.2,170.3 Z" fill="none" stroke="#2a2a2a" stroke-width="1.49"/>
<path d="M776.5,146.3 L776.5,168 L779.7,166.7 L779.7,145.5 Z" fill="#999" stroke="#2a2a2a" stroke-width="1.15"/>
<polyline points="774.4,177.0 772.0,175.5" fill="none" stroke="#2a2a2a" stroke-width="2.53"/>
<circle cx="778.3" cy="168.5" r="1.1" fill="#111"/>
<polyline points="772.6,167.5 808.7,149.8" fill="none" stroke="#3a3a3a" stroke-width="1.26"/>
<g fill="none" stroke="#707070" stroke-width="1.2" stroke-linecap="round" stroke-linejoin="round"><path transform="translate(809.40,141.50) scale(0.889,1.033)" d="M0.2,1.6 C1,0.4 2,0 3,0 C4.8,0 5.8,1.4 5.8,3.6 C5.8,5.8 4.6,7 2.4,7 C4.8,7 6,8.4 6,11 C6,13.6 4.8,15 3,15 C1.8,15 0.8,14.4 0,13.2" vector-effect="non-scaling-stroke"/></g>
</svg>
</body></html>
